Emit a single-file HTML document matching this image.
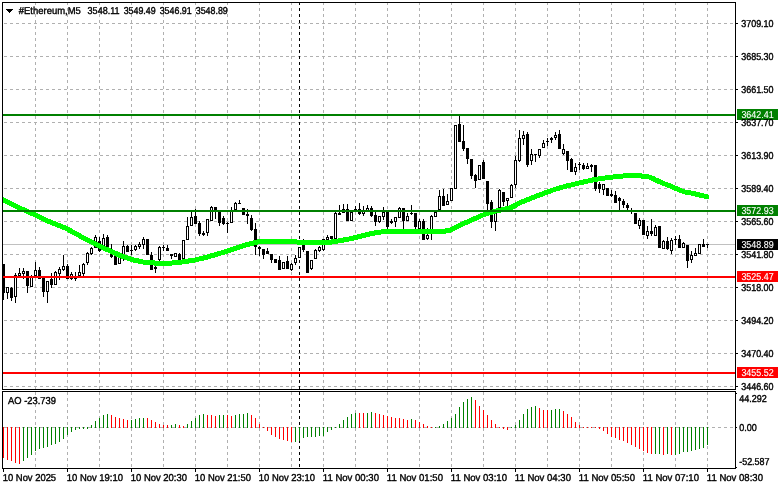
<!DOCTYPE html>
<html><head><meta charset="utf-8"><title>#Ethereum,M5</title>
<style>html,body{margin:0;padding:0;background:#fff;}body{width:781px;height:489px;overflow:hidden;font-family:"Liberation Sans",sans-serif;}</style>
</head><body><svg width="781" height="489" viewBox="0 0 781 489" style="display:block"><g shape-rendering="crispEdges">
<path d="M35.5 3V5M35.5 8V11M35.5 14V17M35.5 20V23M35.5 26V29M35.5 32V35M35.5 38V41M35.5 44V47M35.5 50V53M35.5 56V59M35.5 62V65M35.5 68V71M35.5 74V77M35.5 80V83M35.5 86V89M35.5 92V95M35.5 98V101M35.5 104V107M35.5 110V113M35.5 116V119M35.5 122V125M35.5 128V131M35.5 134V137M35.5 140V143M35.5 146V149M35.5 152V155M35.5 158V161M35.5 164V167M35.5 170V173M35.5 176V179M35.5 182V185M35.5 188V191M35.5 194V197M35.5 200V203M35.5 206V209M35.5 212V215M35.5 218V221M35.5 224V227M35.5 230V233M35.5 236V239M35.5 242V245M35.5 248V251M35.5 254V257M35.5 260V263M35.5 266V269M35.5 272V275M35.5 278V281M35.5 284V287M35.5 290V293M35.5 296V299M35.5 302V305M35.5 308V311M35.5 314V317M35.5 320V323M35.5 326V329M35.5 332V335M35.5 338V341M35.5 344V347M35.5 350V353M35.5 356V359M35.5 362V365M35.5 368V371M35.5 374V377M35.5 380V383M35.5 386V389" stroke="#b0b0b0" stroke-width="1" fill="none"/>
<path d="M35.5 392V395M35.5 398V401M35.5 404V407M35.5 410V413M35.5 416V419M35.5 422V425M35.5 428V431M35.5 434V437M35.5 440V443M35.5 446V449M35.5 452V455M35.5 458V461M35.5 464V467" stroke="#b0b0b0" stroke-width="1" fill="none"/>
<path d="M67.5 3V5M67.5 8V11M67.5 14V17M67.5 20V23M67.5 26V29M67.5 32V35M67.5 38V41M67.5 44V47M67.5 50V53M67.5 56V59M67.5 62V65M67.5 68V71M67.5 74V77M67.5 80V83M67.5 86V89M67.5 92V95M67.5 98V101M67.5 104V107M67.5 110V113M67.5 116V119M67.5 122V125M67.5 128V131M67.5 134V137M67.5 140V143M67.5 146V149M67.5 152V155M67.5 158V161M67.5 164V167M67.5 170V173M67.5 176V179M67.5 182V185M67.5 188V191M67.5 194V197M67.5 200V203M67.5 206V209M67.5 212V215M67.5 218V221M67.5 224V227M67.5 230V233M67.5 236V239M67.5 242V245M67.5 248V251M67.5 254V257M67.5 260V263M67.5 266V269M67.5 272V275M67.5 278V281M67.5 284V287M67.5 290V293M67.5 296V299M67.5 302V305M67.5 308V311M67.5 314V317M67.5 320V323M67.5 326V329M67.5 332V335M67.5 338V341M67.5 344V347M67.5 350V353M67.5 356V359M67.5 362V365M67.5 368V371M67.5 374V377M67.5 380V383M67.5 386V389" stroke="#b0b0b0" stroke-width="1" fill="none"/>
<path d="M67.5 392V395M67.5 398V401M67.5 404V407M67.5 410V413M67.5 416V419M67.5 422V425M67.5 428V431M67.5 434V437M67.5 440V443M67.5 446V449M67.5 452V455M67.5 458V461M67.5 464V467" stroke="#b0b0b0" stroke-width="1" fill="none"/>
<path d="M99.5 3V5M99.5 8V11M99.5 14V17M99.5 20V23M99.5 26V29M99.5 32V35M99.5 38V41M99.5 44V47M99.5 50V53M99.5 56V59M99.5 62V65M99.5 68V71M99.5 74V77M99.5 80V83M99.5 86V89M99.5 92V95M99.5 98V101M99.5 104V107M99.5 110V113M99.5 116V119M99.5 122V125M99.5 128V131M99.5 134V137M99.5 140V143M99.5 146V149M99.5 152V155M99.5 158V161M99.5 164V167M99.5 170V173M99.5 176V179M99.5 182V185M99.5 188V191M99.5 194V197M99.5 200V203M99.5 206V209M99.5 212V215M99.5 218V221M99.5 224V227M99.5 230V233M99.5 236V239M99.5 242V245M99.5 248V251M99.5 254V257M99.5 260V263M99.5 266V269M99.5 272V275M99.5 278V281M99.5 284V287M99.5 290V293M99.5 296V299M99.5 302V305M99.5 308V311M99.5 314V317M99.5 320V323M99.5 326V329M99.5 332V335M99.5 338V341M99.5 344V347M99.5 350V353M99.5 356V359M99.5 362V365M99.5 368V371M99.5 374V377M99.5 380V383M99.5 386V389" stroke="#b0b0b0" stroke-width="1" fill="none"/>
<path d="M99.5 392V395M99.5 398V401M99.5 404V407M99.5 410V413M99.5 416V419M99.5 422V425M99.5 428V431M99.5 434V437M99.5 440V443M99.5 446V449M99.5 452V455M99.5 458V461M99.5 464V467" stroke="#b0b0b0" stroke-width="1" fill="none"/>
<path d="M131.5 3V5M131.5 8V11M131.5 14V17M131.5 20V23M131.5 26V29M131.5 32V35M131.5 38V41M131.5 44V47M131.5 50V53M131.5 56V59M131.5 62V65M131.5 68V71M131.5 74V77M131.5 80V83M131.5 86V89M131.5 92V95M131.5 98V101M131.5 104V107M131.5 110V113M131.5 116V119M131.5 122V125M131.5 128V131M131.5 134V137M131.5 140V143M131.5 146V149M131.5 152V155M131.5 158V161M131.5 164V167M131.5 170V173M131.5 176V179M131.5 182V185M131.5 188V191M131.5 194V197M131.5 200V203M131.5 206V209M131.5 212V215M131.5 218V221M131.5 224V227M131.5 230V233M131.5 236V239M131.5 242V245M131.5 248V251M131.5 254V257M131.5 260V263M131.5 266V269M131.5 272V275M131.5 278V281M131.5 284V287M131.5 290V293M131.5 296V299M131.5 302V305M131.5 308V311M131.5 314V317M131.5 320V323M131.5 326V329M131.5 332V335M131.5 338V341M131.5 344V347M131.5 350V353M131.5 356V359M131.5 362V365M131.5 368V371M131.5 374V377M131.5 380V383M131.5 386V389" stroke="#b0b0b0" stroke-width="1" fill="none"/>
<path d="M131.5 392V395M131.5 398V401M131.5 404V407M131.5 410V413M131.5 416V419M131.5 422V425M131.5 428V431M131.5 434V437M131.5 440V443M131.5 446V449M131.5 452V455M131.5 458V461M131.5 464V467" stroke="#b0b0b0" stroke-width="1" fill="none"/>
<path d="M163.5 3V5M163.5 8V11M163.5 14V17M163.5 20V23M163.5 26V29M163.5 32V35M163.5 38V41M163.5 44V47M163.5 50V53M163.5 56V59M163.5 62V65M163.5 68V71M163.5 74V77M163.5 80V83M163.5 86V89M163.5 92V95M163.5 98V101M163.5 104V107M163.5 110V113M163.5 116V119M163.5 122V125M163.5 128V131M163.5 134V137M163.5 140V143M163.5 146V149M163.5 152V155M163.5 158V161M163.5 164V167M163.5 170V173M163.5 176V179M163.5 182V185M163.5 188V191M163.5 194V197M163.5 200V203M163.5 206V209M163.5 212V215M163.5 218V221M163.5 224V227M163.5 230V233M163.5 236V239M163.5 242V245M163.5 248V251M163.5 254V257M163.5 260V263M163.5 266V269M163.5 272V275M163.5 278V281M163.5 284V287M163.5 290V293M163.5 296V299M163.5 302V305M163.5 308V311M163.5 314V317M163.5 320V323M163.5 326V329M163.5 332V335M163.5 338V341M163.5 344V347M163.5 350V353M163.5 356V359M163.5 362V365M163.5 368V371M163.5 374V377M163.5 380V383M163.5 386V389" stroke="#b0b0b0" stroke-width="1" fill="none"/>
<path d="M163.5 392V395M163.5 398V401M163.5 404V407M163.5 410V413M163.5 416V419M163.5 422V425M163.5 428V431M163.5 434V437M163.5 440V443M163.5 446V449M163.5 452V455M163.5 458V461M163.5 464V467" stroke="#b0b0b0" stroke-width="1" fill="none"/>
<path d="M195.5 3V5M195.5 8V11M195.5 14V17M195.5 20V23M195.5 26V29M195.5 32V35M195.5 38V41M195.5 44V47M195.5 50V53M195.5 56V59M195.5 62V65M195.5 68V71M195.5 74V77M195.5 80V83M195.5 86V89M195.5 92V95M195.5 98V101M195.5 104V107M195.5 110V113M195.5 116V119M195.5 122V125M195.5 128V131M195.5 134V137M195.5 140V143M195.5 146V149M195.5 152V155M195.5 158V161M195.5 164V167M195.5 170V173M195.5 176V179M195.5 182V185M195.5 188V191M195.5 194V197M195.5 200V203M195.5 206V209M195.5 212V215M195.5 218V221M195.5 224V227M195.5 230V233M195.5 236V239M195.5 242V245M195.5 248V251M195.5 254V257M195.5 260V263M195.5 266V269M195.5 272V275M195.5 278V281M195.5 284V287M195.5 290V293M195.5 296V299M195.5 302V305M195.5 308V311M195.5 314V317M195.5 320V323M195.5 326V329M195.5 332V335M195.5 338V341M195.5 344V347M195.5 350V353M195.5 356V359M195.5 362V365M195.5 368V371M195.5 374V377M195.5 380V383M195.5 386V389" stroke="#b0b0b0" stroke-width="1" fill="none"/>
<path d="M195.5 392V395M195.5 398V401M195.5 404V407M195.5 410V413M195.5 416V419M195.5 422V425M195.5 428V431M195.5 434V437M195.5 440V443M195.5 446V449M195.5 452V455M195.5 458V461M195.5 464V467" stroke="#b0b0b0" stroke-width="1" fill="none"/>
<path d="M227.5 3V5M227.5 8V11M227.5 14V17M227.5 20V23M227.5 26V29M227.5 32V35M227.5 38V41M227.5 44V47M227.5 50V53M227.5 56V59M227.5 62V65M227.5 68V71M227.5 74V77M227.5 80V83M227.5 86V89M227.5 92V95M227.5 98V101M227.5 104V107M227.5 110V113M227.5 116V119M227.5 122V125M227.5 128V131M227.5 134V137M227.5 140V143M227.5 146V149M227.5 152V155M227.5 158V161M227.5 164V167M227.5 170V173M227.5 176V179M227.5 182V185M227.5 188V191M227.5 194V197M227.5 200V203M227.5 206V209M227.5 212V215M227.5 218V221M227.5 224V227M227.5 230V233M227.5 236V239M227.5 242V245M227.5 248V251M227.5 254V257M227.5 260V263M227.5 266V269M227.5 272V275M227.5 278V281M227.5 284V287M227.5 290V293M227.5 296V299M227.5 302V305M227.5 308V311M227.5 314V317M227.5 320V323M227.5 326V329M227.5 332V335M227.5 338V341M227.5 344V347M227.5 350V353M227.5 356V359M227.5 362V365M227.5 368V371M227.5 374V377M227.5 380V383M227.5 386V389" stroke="#b0b0b0" stroke-width="1" fill="none"/>
<path d="M227.5 392V395M227.5 398V401M227.5 404V407M227.5 410V413M227.5 416V419M227.5 422V425M227.5 428V431M227.5 434V437M227.5 440V443M227.5 446V449M227.5 452V455M227.5 458V461M227.5 464V467" stroke="#b0b0b0" stroke-width="1" fill="none"/>
<path d="M259.5 3V5M259.5 8V11M259.5 14V17M259.5 20V23M259.5 26V29M259.5 32V35M259.5 38V41M259.5 44V47M259.5 50V53M259.5 56V59M259.5 62V65M259.5 68V71M259.5 74V77M259.5 80V83M259.5 86V89M259.5 92V95M259.5 98V101M259.5 104V107M259.5 110V113M259.5 116V119M259.5 122V125M259.5 128V131M259.5 134V137M259.5 140V143M259.5 146V149M259.5 152V155M259.5 158V161M259.5 164V167M259.5 170V173M259.5 176V179M259.5 182V185M259.5 188V191M259.5 194V197M259.5 200V203M259.5 206V209M259.5 212V215M259.5 218V221M259.5 224V227M259.5 230V233M259.5 236V239M259.5 242V245M259.5 248V251M259.5 254V257M259.5 260V263M259.5 266V269M259.5 272V275M259.5 278V281M259.5 284V287M259.5 290V293M259.5 296V299M259.5 302V305M259.5 308V311M259.5 314V317M259.5 320V323M259.5 326V329M259.5 332V335M259.5 338V341M259.5 344V347M259.5 350V353M259.5 356V359M259.5 362V365M259.5 368V371M259.5 374V377M259.5 380V383M259.5 386V389" stroke="#b0b0b0" stroke-width="1" fill="none"/>
<path d="M259.5 392V395M259.5 398V401M259.5 404V407M259.5 410V413M259.5 416V419M259.5 422V425M259.5 428V431M259.5 434V437M259.5 440V443M259.5 446V449M259.5 452V455M259.5 458V461M259.5 464V467" stroke="#b0b0b0" stroke-width="1" fill="none"/>
<path d="M291.5 3V5M291.5 8V11M291.5 14V17M291.5 20V23M291.5 26V29M291.5 32V35M291.5 38V41M291.5 44V47M291.5 50V53M291.5 56V59M291.5 62V65M291.5 68V71M291.5 74V77M291.5 80V83M291.5 86V89M291.5 92V95M291.5 98V101M291.5 104V107M291.5 110V113M291.5 116V119M291.5 122V125M291.5 128V131M291.5 134V137M291.5 140V143M291.5 146V149M291.5 152V155M291.5 158V161M291.5 164V167M291.5 170V173M291.5 176V179M291.5 182V185M291.5 188V191M291.5 194V197M291.5 200V203M291.5 206V209M291.5 212V215M291.5 218V221M291.5 224V227M291.5 230V233M291.5 236V239M291.5 242V245M291.5 248V251M291.5 254V257M291.5 260V263M291.5 266V269M291.5 272V275M291.5 278V281M291.5 284V287M291.5 290V293M291.5 296V299M291.5 302V305M291.5 308V311M291.5 314V317M291.5 320V323M291.5 326V329M291.5 332V335M291.5 338V341M291.5 344V347M291.5 350V353M291.5 356V359M291.5 362V365M291.5 368V371M291.5 374V377M291.5 380V383M291.5 386V389" stroke="#b0b0b0" stroke-width="1" fill="none"/>
<path d="M291.5 392V395M291.5 398V401M291.5 404V407M291.5 410V413M291.5 416V419M291.5 422V425M291.5 428V431M291.5 434V437M291.5 440V443M291.5 446V449M291.5 452V455M291.5 458V461M291.5 464V467" stroke="#b0b0b0" stroke-width="1" fill="none"/>
<path d="M323.5 3V5M323.5 8V11M323.5 14V17M323.5 20V23M323.5 26V29M323.5 32V35M323.5 38V41M323.5 44V47M323.5 50V53M323.5 56V59M323.5 62V65M323.5 68V71M323.5 74V77M323.5 80V83M323.5 86V89M323.5 92V95M323.5 98V101M323.5 104V107M323.5 110V113M323.5 116V119M323.5 122V125M323.5 128V131M323.5 134V137M323.5 140V143M323.5 146V149M323.5 152V155M323.5 158V161M323.5 164V167M323.5 170V173M323.5 176V179M323.5 182V185M323.5 188V191M323.5 194V197M323.5 200V203M323.5 206V209M323.5 212V215M323.5 218V221M323.5 224V227M323.5 230V233M323.5 236V239M323.5 242V245M323.5 248V251M323.5 254V257M323.5 260V263M323.5 266V269M323.5 272V275M323.5 278V281M323.5 284V287M323.5 290V293M323.5 296V299M323.5 302V305M323.5 308V311M323.5 314V317M323.5 320V323M323.5 326V329M323.5 332V335M323.5 338V341M323.5 344V347M323.5 350V353M323.5 356V359M323.5 362V365M323.5 368V371M323.5 374V377M323.5 380V383M323.5 386V389" stroke="#b0b0b0" stroke-width="1" fill="none"/>
<path d="M323.5 392V395M323.5 398V401M323.5 404V407M323.5 410V413M323.5 416V419M323.5 422V425M323.5 428V431M323.5 434V437M323.5 440V443M323.5 446V449M323.5 452V455M323.5 458V461M323.5 464V467" stroke="#b0b0b0" stroke-width="1" fill="none"/>
<path d="M355.5 3V5M355.5 8V11M355.5 14V17M355.5 20V23M355.5 26V29M355.5 32V35M355.5 38V41M355.5 44V47M355.5 50V53M355.5 56V59M355.5 62V65M355.5 68V71M355.5 74V77M355.5 80V83M355.5 86V89M355.5 92V95M355.5 98V101M355.5 104V107M355.5 110V113M355.5 116V119M355.5 122V125M355.5 128V131M355.5 134V137M355.5 140V143M355.5 146V149M355.5 152V155M355.5 158V161M355.5 164V167M355.5 170V173M355.5 176V179M355.5 182V185M355.5 188V191M355.5 194V197M355.5 200V203M355.5 206V209M355.5 212V215M355.5 218V221M355.5 224V227M355.5 230V233M355.5 236V239M355.5 242V245M355.5 248V251M355.5 254V257M355.5 260V263M355.5 266V269M355.5 272V275M355.5 278V281M355.5 284V287M355.5 290V293M355.5 296V299M355.5 302V305M355.5 308V311M355.5 314V317M355.5 320V323M355.5 326V329M355.5 332V335M355.5 338V341M355.5 344V347M355.5 350V353M355.5 356V359M355.5 362V365M355.5 368V371M355.5 374V377M355.5 380V383M355.5 386V389" stroke="#b0b0b0" stroke-width="1" fill="none"/>
<path d="M355.5 392V395M355.5 398V401M355.5 404V407M355.5 410V413M355.5 416V419M355.5 422V425M355.5 428V431M355.5 434V437M355.5 440V443M355.5 446V449M355.5 452V455M355.5 458V461M355.5 464V467" stroke="#b0b0b0" stroke-width="1" fill="none"/>
<path d="M387.5 3V5M387.5 8V11M387.5 14V17M387.5 20V23M387.5 26V29M387.5 32V35M387.5 38V41M387.5 44V47M387.5 50V53M387.5 56V59M387.5 62V65M387.5 68V71M387.5 74V77M387.5 80V83M387.5 86V89M387.5 92V95M387.5 98V101M387.5 104V107M387.5 110V113M387.5 116V119M387.5 122V125M387.5 128V131M387.5 134V137M387.5 140V143M387.5 146V149M387.5 152V155M387.5 158V161M387.5 164V167M387.5 170V173M387.5 176V179M387.5 182V185M387.5 188V191M387.5 194V197M387.5 200V203M387.5 206V209M387.5 212V215M387.5 218V221M387.5 224V227M387.5 230V233M387.5 236V239M387.5 242V245M387.5 248V251M387.5 254V257M387.5 260V263M387.5 266V269M387.5 272V275M387.5 278V281M387.5 284V287M387.5 290V293M387.5 296V299M387.5 302V305M387.5 308V311M387.5 314V317M387.5 320V323M387.5 326V329M387.5 332V335M387.5 338V341M387.5 344V347M387.5 350V353M387.5 356V359M387.5 362V365M387.5 368V371M387.5 374V377M387.5 380V383M387.5 386V389" stroke="#b0b0b0" stroke-width="1" fill="none"/>
<path d="M387.5 392V395M387.5 398V401M387.5 404V407M387.5 410V413M387.5 416V419M387.5 422V425M387.5 428V431M387.5 434V437M387.5 440V443M387.5 446V449M387.5 452V455M387.5 458V461M387.5 464V467" stroke="#b0b0b0" stroke-width="1" fill="none"/>
<path d="M419.5 3V5M419.5 8V11M419.5 14V17M419.5 20V23M419.5 26V29M419.5 32V35M419.5 38V41M419.5 44V47M419.5 50V53M419.5 56V59M419.5 62V65M419.5 68V71M419.5 74V77M419.5 80V83M419.5 86V89M419.5 92V95M419.5 98V101M419.5 104V107M419.5 110V113M419.5 116V119M419.5 122V125M419.5 128V131M419.5 134V137M419.5 140V143M419.5 146V149M419.5 152V155M419.5 158V161M419.5 164V167M419.5 170V173M419.5 176V179M419.5 182V185M419.5 188V191M419.5 194V197M419.5 200V203M419.5 206V209M419.5 212V215M419.5 218V221M419.5 224V227M419.5 230V233M419.5 236V239M419.5 242V245M419.5 248V251M419.5 254V257M419.5 260V263M419.5 266V269M419.5 272V275M419.5 278V281M419.5 284V287M419.5 290V293M419.5 296V299M419.5 302V305M419.5 308V311M419.5 314V317M419.5 320V323M419.5 326V329M419.5 332V335M419.5 338V341M419.5 344V347M419.5 350V353M419.5 356V359M419.5 362V365M419.5 368V371M419.5 374V377M419.5 380V383M419.5 386V389" stroke="#b0b0b0" stroke-width="1" fill="none"/>
<path d="M419.5 392V395M419.5 398V401M419.5 404V407M419.5 410V413M419.5 416V419M419.5 422V425M419.5 428V431M419.5 434V437M419.5 440V443M419.5 446V449M419.5 452V455M419.5 458V461M419.5 464V467" stroke="#b0b0b0" stroke-width="1" fill="none"/>
<path d="M451.5 3V5M451.5 8V11M451.5 14V17M451.5 20V23M451.5 26V29M451.5 32V35M451.5 38V41M451.5 44V47M451.5 50V53M451.5 56V59M451.5 62V65M451.5 68V71M451.5 74V77M451.5 80V83M451.5 86V89M451.5 92V95M451.5 98V101M451.5 104V107M451.5 110V113M451.5 116V119M451.5 122V125M451.5 128V131M451.5 134V137M451.5 140V143M451.5 146V149M451.5 152V155M451.5 158V161M451.5 164V167M451.5 170V173M451.5 176V179M451.5 182V185M451.5 188V191M451.5 194V197M451.5 200V203M451.5 206V209M451.5 212V215M451.5 218V221M451.5 224V227M451.5 230V233M451.5 236V239M451.5 242V245M451.5 248V251M451.5 254V257M451.5 260V263M451.5 266V269M451.5 272V275M451.5 278V281M451.5 284V287M451.5 290V293M451.5 296V299M451.5 302V305M451.5 308V311M451.5 314V317M451.5 320V323M451.5 326V329M451.5 332V335M451.5 338V341M451.5 344V347M451.5 350V353M451.5 356V359M451.5 362V365M451.5 368V371M451.5 374V377M451.5 380V383M451.5 386V389" stroke="#b0b0b0" stroke-width="1" fill="none"/>
<path d="M451.5 392V395M451.5 398V401M451.5 404V407M451.5 410V413M451.5 416V419M451.5 422V425M451.5 428V431M451.5 434V437M451.5 440V443M451.5 446V449M451.5 452V455M451.5 458V461M451.5 464V467" stroke="#b0b0b0" stroke-width="1" fill="none"/>
<path d="M483.5 3V5M483.5 8V11M483.5 14V17M483.5 20V23M483.5 26V29M483.5 32V35M483.5 38V41M483.5 44V47M483.5 50V53M483.5 56V59M483.5 62V65M483.5 68V71M483.5 74V77M483.5 80V83M483.5 86V89M483.5 92V95M483.5 98V101M483.5 104V107M483.5 110V113M483.5 116V119M483.5 122V125M483.5 128V131M483.5 134V137M483.5 140V143M483.5 146V149M483.5 152V155M483.5 158V161M483.5 164V167M483.5 170V173M483.5 176V179M483.5 182V185M483.5 188V191M483.5 194V197M483.5 200V203M483.5 206V209M483.5 212V215M483.5 218V221M483.5 224V227M483.5 230V233M483.5 236V239M483.5 242V245M483.5 248V251M483.5 254V257M483.5 260V263M483.5 266V269M483.5 272V275M483.5 278V281M483.5 284V287M483.5 290V293M483.5 296V299M483.5 302V305M483.5 308V311M483.5 314V317M483.5 320V323M483.5 326V329M483.5 332V335M483.5 338V341M483.5 344V347M483.5 350V353M483.5 356V359M483.5 362V365M483.5 368V371M483.5 374V377M483.5 380V383M483.5 386V389" stroke="#b0b0b0" stroke-width="1" fill="none"/>
<path d="M483.5 392V395M483.5 398V401M483.5 404V407M483.5 410V413M483.5 416V419M483.5 422V425M483.5 428V431M483.5 434V437M483.5 440V443M483.5 446V449M483.5 452V455M483.5 458V461M483.5 464V467" stroke="#b0b0b0" stroke-width="1" fill="none"/>
<path d="M515.5 3V5M515.5 8V11M515.5 14V17M515.5 20V23M515.5 26V29M515.5 32V35M515.5 38V41M515.5 44V47M515.5 50V53M515.5 56V59M515.5 62V65M515.5 68V71M515.5 74V77M515.5 80V83M515.5 86V89M515.5 92V95M515.5 98V101M515.5 104V107M515.5 110V113M515.5 116V119M515.5 122V125M515.5 128V131M515.5 134V137M515.5 140V143M515.5 146V149M515.5 152V155M515.5 158V161M515.5 164V167M515.5 170V173M515.5 176V179M515.5 182V185M515.5 188V191M515.5 194V197M515.5 200V203M515.5 206V209M515.5 212V215M515.5 218V221M515.5 224V227M515.5 230V233M515.5 236V239M515.5 242V245M515.5 248V251M515.5 254V257M515.5 260V263M515.5 266V269M515.5 272V275M515.5 278V281M515.5 284V287M515.5 290V293M515.5 296V299M515.5 302V305M515.5 308V311M515.5 314V317M515.5 320V323M515.5 326V329M515.5 332V335M515.5 338V341M515.5 344V347M515.5 350V353M515.5 356V359M515.5 362V365M515.5 368V371M515.5 374V377M515.5 380V383M515.5 386V389" stroke="#b0b0b0" stroke-width="1" fill="none"/>
<path d="M515.5 392V395M515.5 398V401M515.5 404V407M515.5 410V413M515.5 416V419M515.5 422V425M515.5 428V431M515.5 434V437M515.5 440V443M515.5 446V449M515.5 452V455M515.5 458V461M515.5 464V467" stroke="#b0b0b0" stroke-width="1" fill="none"/>
<path d="M547.5 3V5M547.5 8V11M547.5 14V17M547.5 20V23M547.5 26V29M547.5 32V35M547.5 38V41M547.5 44V47M547.5 50V53M547.5 56V59M547.5 62V65M547.5 68V71M547.5 74V77M547.5 80V83M547.5 86V89M547.5 92V95M547.5 98V101M547.5 104V107M547.5 110V113M547.5 116V119M547.5 122V125M547.5 128V131M547.5 134V137M547.5 140V143M547.5 146V149M547.5 152V155M547.5 158V161M547.5 164V167M547.5 170V173M547.5 176V179M547.5 182V185M547.5 188V191M547.5 194V197M547.5 200V203M547.5 206V209M547.5 212V215M547.5 218V221M547.5 224V227M547.5 230V233M547.5 236V239M547.5 242V245M547.5 248V251M547.5 254V257M547.5 260V263M547.5 266V269M547.5 272V275M547.5 278V281M547.5 284V287M547.5 290V293M547.5 296V299M547.5 302V305M547.5 308V311M547.5 314V317M547.5 320V323M547.5 326V329M547.5 332V335M547.5 338V341M547.5 344V347M547.5 350V353M547.5 356V359M547.5 362V365M547.5 368V371M547.5 374V377M547.5 380V383M547.5 386V389" stroke="#b0b0b0" stroke-width="1" fill="none"/>
<path d="M547.5 392V395M547.5 398V401M547.5 404V407M547.5 410V413M547.5 416V419M547.5 422V425M547.5 428V431M547.5 434V437M547.5 440V443M547.5 446V449M547.5 452V455M547.5 458V461M547.5 464V467" stroke="#b0b0b0" stroke-width="1" fill="none"/>
<path d="M579.5 3V5M579.5 8V11M579.5 14V17M579.5 20V23M579.5 26V29M579.5 32V35M579.5 38V41M579.5 44V47M579.5 50V53M579.5 56V59M579.5 62V65M579.5 68V71M579.5 74V77M579.5 80V83M579.5 86V89M579.5 92V95M579.5 98V101M579.5 104V107M579.5 110V113M579.5 116V119M579.5 122V125M579.5 128V131M579.5 134V137M579.5 140V143M579.5 146V149M579.5 152V155M579.5 158V161M579.5 164V167M579.5 170V173M579.5 176V179M579.5 182V185M579.5 188V191M579.5 194V197M579.5 200V203M579.5 206V209M579.5 212V215M579.5 218V221M579.5 224V227M579.5 230V233M579.5 236V239M579.5 242V245M579.5 248V251M579.5 254V257M579.5 260V263M579.5 266V269M579.5 272V275M579.5 278V281M579.5 284V287M579.5 290V293M579.5 296V299M579.5 302V305M579.5 308V311M579.5 314V317M579.5 320V323M579.5 326V329M579.5 332V335M579.5 338V341M579.5 344V347M579.5 350V353M579.5 356V359M579.5 362V365M579.5 368V371M579.5 374V377M579.5 380V383M579.5 386V389" stroke="#b0b0b0" stroke-width="1" fill="none"/>
<path d="M579.5 392V395M579.5 398V401M579.5 404V407M579.5 410V413M579.5 416V419M579.5 422V425M579.5 428V431M579.5 434V437M579.5 440V443M579.5 446V449M579.5 452V455M579.5 458V461M579.5 464V467" stroke="#b0b0b0" stroke-width="1" fill="none"/>
<path d="M611.5 3V5M611.5 8V11M611.5 14V17M611.5 20V23M611.5 26V29M611.5 32V35M611.5 38V41M611.5 44V47M611.5 50V53M611.5 56V59M611.5 62V65M611.5 68V71M611.5 74V77M611.5 80V83M611.5 86V89M611.5 92V95M611.5 98V101M611.5 104V107M611.5 110V113M611.5 116V119M611.5 122V125M611.5 128V131M611.5 134V137M611.5 140V143M611.5 146V149M611.5 152V155M611.5 158V161M611.5 164V167M611.5 170V173M611.5 176V179M611.5 182V185M611.5 188V191M611.5 194V197M611.5 200V203M611.5 206V209M611.5 212V215M611.5 218V221M611.5 224V227M611.5 230V233M611.5 236V239M611.5 242V245M611.5 248V251M611.5 254V257M611.5 260V263M611.5 266V269M611.5 272V275M611.5 278V281M611.5 284V287M611.5 290V293M611.5 296V299M611.5 302V305M611.5 308V311M611.5 314V317M611.5 320V323M611.5 326V329M611.5 332V335M611.5 338V341M611.5 344V347M611.5 350V353M611.5 356V359M611.5 362V365M611.5 368V371M611.5 374V377M611.5 380V383M611.5 386V389" stroke="#b0b0b0" stroke-width="1" fill="none"/>
<path d="M611.5 392V395M611.5 398V401M611.5 404V407M611.5 410V413M611.5 416V419M611.5 422V425M611.5 428V431M611.5 434V437M611.5 440V443M611.5 446V449M611.5 452V455M611.5 458V461M611.5 464V467" stroke="#b0b0b0" stroke-width="1" fill="none"/>
<path d="M643.5 3V5M643.5 8V11M643.5 14V17M643.5 20V23M643.5 26V29M643.5 32V35M643.5 38V41M643.5 44V47M643.5 50V53M643.5 56V59M643.5 62V65M643.5 68V71M643.5 74V77M643.5 80V83M643.5 86V89M643.5 92V95M643.5 98V101M643.5 104V107M643.5 110V113M643.5 116V119M643.5 122V125M643.5 128V131M643.5 134V137M643.5 140V143M643.5 146V149M643.5 152V155M643.5 158V161M643.5 164V167M643.5 170V173M643.5 176V179M643.5 182V185M643.5 188V191M643.5 194V197M643.5 200V203M643.5 206V209M643.5 212V215M643.5 218V221M643.5 224V227M643.5 230V233M643.5 236V239M643.5 242V245M643.5 248V251M643.5 254V257M643.5 260V263M643.5 266V269M643.5 272V275M643.5 278V281M643.5 284V287M643.5 290V293M643.5 296V299M643.5 302V305M643.5 308V311M643.5 314V317M643.5 320V323M643.5 326V329M643.5 332V335M643.5 338V341M643.5 344V347M643.5 350V353M643.5 356V359M643.5 362V365M643.5 368V371M643.5 374V377M643.5 380V383M643.5 386V389" stroke="#b0b0b0" stroke-width="1" fill="none"/>
<path d="M643.5 392V395M643.5 398V401M643.5 404V407M643.5 410V413M643.5 416V419M643.5 422V425M643.5 428V431M643.5 434V437M643.5 440V443M643.5 446V449M643.5 452V455M643.5 458V461M643.5 464V467" stroke="#b0b0b0" stroke-width="1" fill="none"/>
<path d="M675.5 3V5M675.5 8V11M675.5 14V17M675.5 20V23M675.5 26V29M675.5 32V35M675.5 38V41M675.5 44V47M675.5 50V53M675.5 56V59M675.5 62V65M675.5 68V71M675.5 74V77M675.5 80V83M675.5 86V89M675.5 92V95M675.5 98V101M675.5 104V107M675.5 110V113M675.5 116V119M675.5 122V125M675.5 128V131M675.5 134V137M675.5 140V143M675.5 146V149M675.5 152V155M675.5 158V161M675.5 164V167M675.5 170V173M675.5 176V179M675.5 182V185M675.5 188V191M675.5 194V197M675.5 200V203M675.5 206V209M675.5 212V215M675.5 218V221M675.5 224V227M675.5 230V233M675.5 236V239M675.5 242V245M675.5 248V251M675.5 254V257M675.5 260V263M675.5 266V269M675.5 272V275M675.5 278V281M675.5 284V287M675.5 290V293M675.5 296V299M675.5 302V305M675.5 308V311M675.5 314V317M675.5 320V323M675.5 326V329M675.5 332V335M675.5 338V341M675.5 344V347M675.5 350V353M675.5 356V359M675.5 362V365M675.5 368V371M675.5 374V377M675.5 380V383M675.5 386V389" stroke="#b0b0b0" stroke-width="1" fill="none"/>
<path d="M675.5 392V395M675.5 398V401M675.5 404V407M675.5 410V413M675.5 416V419M675.5 422V425M675.5 428V431M675.5 434V437M675.5 440V443M675.5 446V449M675.5 452V455M675.5 458V461M675.5 464V467" stroke="#b0b0b0" stroke-width="1" fill="none"/>
<path d="M707.5 3V5M707.5 8V11M707.5 14V17M707.5 20V23M707.5 26V29M707.5 32V35M707.5 38V41M707.5 44V47M707.5 50V53M707.5 56V59M707.5 62V65M707.5 68V71M707.5 74V77M707.5 80V83M707.5 86V89M707.5 92V95M707.5 98V101M707.5 104V107M707.5 110V113M707.5 116V119M707.5 122V125M707.5 128V131M707.5 134V137M707.5 140V143M707.5 146V149M707.5 152V155M707.5 158V161M707.5 164V167M707.5 170V173M707.5 176V179M707.5 182V185M707.5 188V191M707.5 194V197M707.5 200V203M707.5 206V209M707.5 212V215M707.5 218V221M707.5 224V227M707.5 230V233M707.5 236V239M707.5 242V245M707.5 248V251M707.5 254V257M707.5 260V263M707.5 266V269M707.5 272V275M707.5 278V281M707.5 284V287M707.5 290V293M707.5 296V299M707.5 302V305M707.5 308V311M707.5 314V317M707.5 320V323M707.5 326V329M707.5 332V335M707.5 338V341M707.5 344V347M707.5 350V353M707.5 356V359M707.5 362V365M707.5 368V371M707.5 374V377M707.5 380V383M707.5 386V389" stroke="#b0b0b0" stroke-width="1" fill="none"/>
<path d="M707.5 392V395M707.5 398V401M707.5 404V407M707.5 410V413M707.5 416V419M707.5 422V425M707.5 428V431M707.5 434V437M707.5 440V443M707.5 446V449M707.5 452V455M707.5 458V461M707.5 464V467" stroke="#b0b0b0" stroke-width="1" fill="none"/>
<path d="M4 23.5H7M10 23.5H13M16 23.5H19M22 23.5H25M28 23.5H31M34 23.5H37M40 23.5H43M46 23.5H49M52 23.5H55M58 23.5H61M64 23.5H67M70 23.5H73M76 23.5H79M82 23.5H85M88 23.5H91M94 23.5H97M100 23.5H103M106 23.5H109M112 23.5H115M118 23.5H121M124 23.5H127M130 23.5H133M136 23.5H139M142 23.5H145M148 23.5H151M154 23.5H157M160 23.5H163M166 23.5H169M172 23.5H175M178 23.5H181M184 23.5H187M190 23.5H193M196 23.5H199M202 23.5H205M208 23.5H211M214 23.5H217M220 23.5H223M226 23.5H229M232 23.5H235M238 23.5H241M244 23.5H247M250 23.5H253M256 23.5H259M262 23.5H265M268 23.5H271M274 23.5H277M280 23.5H283M286 23.5H289M292 23.5H295M298 23.5H301M304 23.5H307M310 23.5H313M316 23.5H319M322 23.5H325M328 23.5H331M334 23.5H337M340 23.5H343M346 23.5H349M352 23.5H355M358 23.5H361M364 23.5H367M370 23.5H373M376 23.5H379M382 23.5H385M388 23.5H391M394 23.5H397M400 23.5H403M406 23.5H409M412 23.5H415M418 23.5H421M424 23.5H427M430 23.5H433M436 23.5H439M442 23.5H445M448 23.5H451M454 23.5H457M460 23.5H463M466 23.5H469M472 23.5H475M478 23.5H481M484 23.5H487M490 23.5H493M496 23.5H499M502 23.5H505M508 23.5H511M514 23.5H517M520 23.5H523M526 23.5H529M532 23.5H535M538 23.5H541M544 23.5H547M550 23.5H553M556 23.5H559M562 23.5H565M568 23.5H571M574 23.5H577M580 23.5H583M586 23.5H589M592 23.5H595M598 23.5H601M604 23.5H607M610 23.5H613M616 23.5H619M622 23.5H625M628 23.5H631M634 23.5H637M640 23.5H643M646 23.5H649M652 23.5H655M658 23.5H661M664 23.5H667M670 23.5H673M676 23.5H679M682 23.5H685M688 23.5H691M694 23.5H697M700 23.5H703M706 23.5H709M712 23.5H715M718 23.5H721M724 23.5H727M730 23.5H733" stroke="#b0b0b0" stroke-width="1" fill="none"/>
<path d="M4 56.5H7M10 56.5H13M16 56.5H19M22 56.5H25M28 56.5H31M34 56.5H37M40 56.5H43M46 56.5H49M52 56.5H55M58 56.5H61M64 56.5H67M70 56.5H73M76 56.5H79M82 56.5H85M88 56.5H91M94 56.5H97M100 56.5H103M106 56.5H109M112 56.5H115M118 56.5H121M124 56.5H127M130 56.5H133M136 56.5H139M142 56.5H145M148 56.5H151M154 56.5H157M160 56.5H163M166 56.5H169M172 56.5H175M178 56.5H181M184 56.5H187M190 56.5H193M196 56.5H199M202 56.5H205M208 56.5H211M214 56.5H217M220 56.5H223M226 56.5H229M232 56.5H235M238 56.5H241M244 56.5H247M250 56.5H253M256 56.5H259M262 56.5H265M268 56.5H271M274 56.5H277M280 56.5H283M286 56.5H289M292 56.5H295M298 56.5H301M304 56.5H307M310 56.5H313M316 56.5H319M322 56.5H325M328 56.5H331M334 56.5H337M340 56.5H343M346 56.5H349M352 56.5H355M358 56.5H361M364 56.5H367M370 56.5H373M376 56.5H379M382 56.5H385M388 56.5H391M394 56.5H397M400 56.5H403M406 56.5H409M412 56.5H415M418 56.5H421M424 56.5H427M430 56.5H433M436 56.5H439M442 56.5H445M448 56.5H451M454 56.5H457M460 56.5H463M466 56.5H469M472 56.5H475M478 56.5H481M484 56.5H487M490 56.5H493M496 56.5H499M502 56.5H505M508 56.5H511M514 56.5H517M520 56.5H523M526 56.5H529M532 56.5H535M538 56.5H541M544 56.5H547M550 56.5H553M556 56.5H559M562 56.5H565M568 56.5H571M574 56.5H577M580 56.5H583M586 56.5H589M592 56.5H595M598 56.5H601M604 56.5H607M610 56.5H613M616 56.5H619M622 56.5H625M628 56.5H631M634 56.5H637M640 56.5H643M646 56.5H649M652 56.5H655M658 56.5H661M664 56.5H667M670 56.5H673M676 56.5H679M682 56.5H685M688 56.5H691M694 56.5H697M700 56.5H703M706 56.5H709M712 56.5H715M718 56.5H721M724 56.5H727M730 56.5H733" stroke="#b0b0b0" stroke-width="1" fill="none"/>
<path d="M4 89.5H7M10 89.5H13M16 89.5H19M22 89.5H25M28 89.5H31M34 89.5H37M40 89.5H43M46 89.5H49M52 89.5H55M58 89.5H61M64 89.5H67M70 89.5H73M76 89.5H79M82 89.5H85M88 89.5H91M94 89.5H97M100 89.5H103M106 89.5H109M112 89.5H115M118 89.5H121M124 89.5H127M130 89.5H133M136 89.5H139M142 89.5H145M148 89.5H151M154 89.5H157M160 89.5H163M166 89.5H169M172 89.5H175M178 89.5H181M184 89.5H187M190 89.5H193M196 89.5H199M202 89.5H205M208 89.5H211M214 89.5H217M220 89.5H223M226 89.5H229M232 89.5H235M238 89.5H241M244 89.5H247M250 89.5H253M256 89.5H259M262 89.5H265M268 89.5H271M274 89.5H277M280 89.5H283M286 89.5H289M292 89.5H295M298 89.5H301M304 89.5H307M310 89.5H313M316 89.5H319M322 89.5H325M328 89.5H331M334 89.5H337M340 89.5H343M346 89.5H349M352 89.5H355M358 89.5H361M364 89.5H367M370 89.5H373M376 89.5H379M382 89.5H385M388 89.5H391M394 89.5H397M400 89.5H403M406 89.5H409M412 89.5H415M418 89.5H421M424 89.5H427M430 89.5H433M436 89.5H439M442 89.5H445M448 89.5H451M454 89.5H457M460 89.5H463M466 89.5H469M472 89.5H475M478 89.5H481M484 89.5H487M490 89.5H493M496 89.5H499M502 89.5H505M508 89.5H511M514 89.5H517M520 89.5H523M526 89.5H529M532 89.5H535M538 89.5H541M544 89.5H547M550 89.5H553M556 89.5H559M562 89.5H565M568 89.5H571M574 89.5H577M580 89.5H583M586 89.5H589M592 89.5H595M598 89.5H601M604 89.5H607M610 89.5H613M616 89.5H619M622 89.5H625M628 89.5H631M634 89.5H637M640 89.5H643M646 89.5H649M652 89.5H655M658 89.5H661M664 89.5H667M670 89.5H673M676 89.5H679M682 89.5H685M688 89.5H691M694 89.5H697M700 89.5H703M706 89.5H709M712 89.5H715M718 89.5H721M724 89.5H727M730 89.5H733" stroke="#b0b0b0" stroke-width="1" fill="none"/>
<path d="M4 122.5H7M10 122.5H13M16 122.5H19M22 122.5H25M28 122.5H31M34 122.5H37M40 122.5H43M46 122.5H49M52 122.5H55M58 122.5H61M64 122.5H67M70 122.5H73M76 122.5H79M82 122.5H85M88 122.5H91M94 122.5H97M100 122.5H103M106 122.5H109M112 122.5H115M118 122.5H121M124 122.5H127M130 122.5H133M136 122.5H139M142 122.5H145M148 122.5H151M154 122.5H157M160 122.5H163M166 122.5H169M172 122.5H175M178 122.5H181M184 122.5H187M190 122.5H193M196 122.5H199M202 122.5H205M208 122.5H211M214 122.5H217M220 122.5H223M226 122.5H229M232 122.5H235M238 122.5H241M244 122.5H247M250 122.5H253M256 122.5H259M262 122.5H265M268 122.5H271M274 122.5H277M280 122.5H283M286 122.5H289M292 122.5H295M298 122.5H301M304 122.5H307M310 122.5H313M316 122.5H319M322 122.5H325M328 122.5H331M334 122.5H337M340 122.5H343M346 122.5H349M352 122.5H355M358 122.5H361M364 122.5H367M370 122.5H373M376 122.5H379M382 122.5H385M388 122.5H391M394 122.5H397M400 122.5H403M406 122.5H409M412 122.5H415M418 122.5H421M424 122.5H427M430 122.5H433M436 122.5H439M442 122.5H445M448 122.5H451M454 122.5H457M460 122.5H463M466 122.5H469M472 122.5H475M478 122.5H481M484 122.5H487M490 122.5H493M496 122.5H499M502 122.5H505M508 122.5H511M514 122.5H517M520 122.5H523M526 122.5H529M532 122.5H535M538 122.5H541M544 122.5H547M550 122.5H553M556 122.5H559M562 122.5H565M568 122.5H571M574 122.5H577M580 122.5H583M586 122.5H589M592 122.5H595M598 122.5H601M604 122.5H607M610 122.5H613M616 122.5H619M622 122.5H625M628 122.5H631M634 122.5H637M640 122.5H643M646 122.5H649M652 122.5H655M658 122.5H661M664 122.5H667M670 122.5H673M676 122.5H679M682 122.5H685M688 122.5H691M694 122.5H697M700 122.5H703M706 122.5H709M712 122.5H715M718 122.5H721M724 122.5H727M730 122.5H733" stroke="#b0b0b0" stroke-width="1" fill="none"/>
<path d="M4 155.5H7M10 155.5H13M16 155.5H19M22 155.5H25M28 155.5H31M34 155.5H37M40 155.5H43M46 155.5H49M52 155.5H55M58 155.5H61M64 155.5H67M70 155.5H73M76 155.5H79M82 155.5H85M88 155.5H91M94 155.5H97M100 155.5H103M106 155.5H109M112 155.5H115M118 155.5H121M124 155.5H127M130 155.5H133M136 155.5H139M142 155.5H145M148 155.5H151M154 155.5H157M160 155.5H163M166 155.5H169M172 155.5H175M178 155.5H181M184 155.5H187M190 155.5H193M196 155.5H199M202 155.5H205M208 155.5H211M214 155.5H217M220 155.5H223M226 155.5H229M232 155.5H235M238 155.5H241M244 155.5H247M250 155.5H253M256 155.5H259M262 155.5H265M268 155.5H271M274 155.5H277M280 155.5H283M286 155.5H289M292 155.5H295M298 155.5H301M304 155.5H307M310 155.5H313M316 155.5H319M322 155.5H325M328 155.5H331M334 155.5H337M340 155.5H343M346 155.5H349M352 155.5H355M358 155.5H361M364 155.5H367M370 155.5H373M376 155.5H379M382 155.5H385M388 155.5H391M394 155.5H397M400 155.5H403M406 155.5H409M412 155.5H415M418 155.5H421M424 155.5H427M430 155.5H433M436 155.5H439M442 155.5H445M448 155.5H451M454 155.5H457M460 155.5H463M466 155.5H469M472 155.5H475M478 155.5H481M484 155.5H487M490 155.5H493M496 155.5H499M502 155.5H505M508 155.5H511M514 155.5H517M520 155.5H523M526 155.5H529M532 155.5H535M538 155.5H541M544 155.5H547M550 155.5H553M556 155.5H559M562 155.5H565M568 155.5H571M574 155.5H577M580 155.5H583M586 155.5H589M592 155.5H595M598 155.5H601M604 155.5H607M610 155.5H613M616 155.5H619M622 155.5H625M628 155.5H631M634 155.5H637M640 155.5H643M646 155.5H649M652 155.5H655M658 155.5H661M664 155.5H667M670 155.5H673M676 155.5H679M682 155.5H685M688 155.5H691M694 155.5H697M700 155.5H703M706 155.5H709M712 155.5H715M718 155.5H721M724 155.5H727M730 155.5H733" stroke="#b0b0b0" stroke-width="1" fill="none"/>
<path d="M4 188.5H7M10 188.5H13M16 188.5H19M22 188.5H25M28 188.5H31M34 188.5H37M40 188.5H43M46 188.5H49M52 188.5H55M58 188.5H61M64 188.5H67M70 188.5H73M76 188.5H79M82 188.5H85M88 188.5H91M94 188.5H97M100 188.5H103M106 188.5H109M112 188.5H115M118 188.5H121M124 188.5H127M130 188.5H133M136 188.5H139M142 188.5H145M148 188.5H151M154 188.5H157M160 188.5H163M166 188.5H169M172 188.5H175M178 188.5H181M184 188.5H187M190 188.5H193M196 188.5H199M202 188.5H205M208 188.5H211M214 188.5H217M220 188.5H223M226 188.5H229M232 188.5H235M238 188.5H241M244 188.5H247M250 188.5H253M256 188.5H259M262 188.5H265M268 188.5H271M274 188.5H277M280 188.5H283M286 188.5H289M292 188.5H295M298 188.5H301M304 188.5H307M310 188.5H313M316 188.5H319M322 188.5H325M328 188.5H331M334 188.5H337M340 188.5H343M346 188.5H349M352 188.5H355M358 188.5H361M364 188.5H367M370 188.5H373M376 188.5H379M382 188.5H385M388 188.5H391M394 188.5H397M400 188.5H403M406 188.5H409M412 188.5H415M418 188.5H421M424 188.5H427M430 188.5H433M436 188.5H439M442 188.5H445M448 188.5H451M454 188.5H457M460 188.5H463M466 188.5H469M472 188.5H475M478 188.5H481M484 188.5H487M490 188.5H493M496 188.5H499M502 188.5H505M508 188.5H511M514 188.5H517M520 188.5H523M526 188.5H529M532 188.5H535M538 188.5H541M544 188.5H547M550 188.5H553M556 188.5H559M562 188.5H565M568 188.5H571M574 188.5H577M580 188.5H583M586 188.5H589M592 188.5H595M598 188.5H601M604 188.5H607M610 188.5H613M616 188.5H619M622 188.5H625M628 188.5H631M634 188.5H637M640 188.5H643M646 188.5H649M652 188.5H655M658 188.5H661M664 188.5H667M670 188.5H673M676 188.5H679M682 188.5H685M688 188.5H691M694 188.5H697M700 188.5H703M706 188.5H709M712 188.5H715M718 188.5H721M724 188.5H727M730 188.5H733" stroke="#b0b0b0" stroke-width="1" fill="none"/>
<path d="M4 221.5H7M10 221.5H13M16 221.5H19M22 221.5H25M28 221.5H31M34 221.5H37M40 221.5H43M46 221.5H49M52 221.5H55M58 221.5H61M64 221.5H67M70 221.5H73M76 221.5H79M82 221.5H85M88 221.5H91M94 221.5H97M100 221.5H103M106 221.5H109M112 221.5H115M118 221.5H121M124 221.5H127M130 221.5H133M136 221.5H139M142 221.5H145M148 221.5H151M154 221.5H157M160 221.5H163M166 221.5H169M172 221.5H175M178 221.5H181M184 221.5H187M190 221.5H193M196 221.5H199M202 221.5H205M208 221.5H211M214 221.5H217M220 221.5H223M226 221.5H229M232 221.5H235M238 221.5H241M244 221.5H247M250 221.5H253M256 221.5H259M262 221.5H265M268 221.5H271M274 221.5H277M280 221.5H283M286 221.5H289M292 221.5H295M298 221.5H301M304 221.5H307M310 221.5H313M316 221.5H319M322 221.5H325M328 221.5H331M334 221.5H337M340 221.5H343M346 221.5H349M352 221.5H355M358 221.5H361M364 221.5H367M370 221.5H373M376 221.5H379M382 221.5H385M388 221.5H391M394 221.5H397M400 221.5H403M406 221.5H409M412 221.5H415M418 221.5H421M424 221.5H427M430 221.5H433M436 221.5H439M442 221.5H445M448 221.5H451M454 221.5H457M460 221.5H463M466 221.5H469M472 221.5H475M478 221.5H481M484 221.5H487M490 221.5H493M496 221.5H499M502 221.5H505M508 221.5H511M514 221.5H517M520 221.5H523M526 221.5H529M532 221.5H535M538 221.5H541M544 221.5H547M550 221.5H553M556 221.5H559M562 221.5H565M568 221.5H571M574 221.5H577M580 221.5H583M586 221.5H589M592 221.5H595M598 221.5H601M604 221.5H607M610 221.5H613M616 221.5H619M622 221.5H625M628 221.5H631M634 221.5H637M640 221.5H643M646 221.5H649M652 221.5H655M658 221.5H661M664 221.5H667M670 221.5H673M676 221.5H679M682 221.5H685M688 221.5H691M694 221.5H697M700 221.5H703M706 221.5H709M712 221.5H715M718 221.5H721M724 221.5H727M730 221.5H733" stroke="#b0b0b0" stroke-width="1" fill="none"/>
<path d="M4 254.5H7M10 254.5H13M16 254.5H19M22 254.5H25M28 254.5H31M34 254.5H37M40 254.5H43M46 254.5H49M52 254.5H55M58 254.5H61M64 254.5H67M70 254.5H73M76 254.5H79M82 254.5H85M88 254.5H91M94 254.5H97M100 254.5H103M106 254.5H109M112 254.5H115M118 254.5H121M124 254.5H127M130 254.5H133M136 254.5H139M142 254.5H145M148 254.5H151M154 254.5H157M160 254.5H163M166 254.5H169M172 254.5H175M178 254.5H181M184 254.5H187M190 254.5H193M196 254.5H199M202 254.5H205M208 254.5H211M214 254.5H217M220 254.5H223M226 254.5H229M232 254.5H235M238 254.5H241M244 254.5H247M250 254.5H253M256 254.5H259M262 254.5H265M268 254.5H271M274 254.5H277M280 254.5H283M286 254.5H289M292 254.5H295M298 254.5H301M304 254.5H307M310 254.5H313M316 254.5H319M322 254.5H325M328 254.5H331M334 254.5H337M340 254.5H343M346 254.5H349M352 254.5H355M358 254.5H361M364 254.5H367M370 254.5H373M376 254.5H379M382 254.5H385M388 254.5H391M394 254.5H397M400 254.5H403M406 254.5H409M412 254.5H415M418 254.5H421M424 254.5H427M430 254.5H433M436 254.5H439M442 254.5H445M448 254.5H451M454 254.5H457M460 254.5H463M466 254.5H469M472 254.5H475M478 254.5H481M484 254.5H487M490 254.5H493M496 254.5H499M502 254.5H505M508 254.5H511M514 254.5H517M520 254.5H523M526 254.5H529M532 254.5H535M538 254.5H541M544 254.5H547M550 254.5H553M556 254.5H559M562 254.5H565M568 254.5H571M574 254.5H577M580 254.5H583M586 254.5H589M592 254.5H595M598 254.5H601M604 254.5H607M610 254.5H613M616 254.5H619M622 254.5H625M628 254.5H631M634 254.5H637M640 254.5H643M646 254.5H649M652 254.5H655M658 254.5H661M664 254.5H667M670 254.5H673M676 254.5H679M682 254.5H685M688 254.5H691M694 254.5H697M700 254.5H703M706 254.5H709M712 254.5H715M718 254.5H721M724 254.5H727M730 254.5H733" stroke="#b0b0b0" stroke-width="1" fill="none"/>
<path d="M4 287.5H7M10 287.5H13M16 287.5H19M22 287.5H25M28 287.5H31M34 287.5H37M40 287.5H43M46 287.5H49M52 287.5H55M58 287.5H61M64 287.5H67M70 287.5H73M76 287.5H79M82 287.5H85M88 287.5H91M94 287.5H97M100 287.5H103M106 287.5H109M112 287.5H115M118 287.5H121M124 287.5H127M130 287.5H133M136 287.5H139M142 287.5H145M148 287.5H151M154 287.5H157M160 287.5H163M166 287.5H169M172 287.5H175M178 287.5H181M184 287.5H187M190 287.5H193M196 287.5H199M202 287.5H205M208 287.5H211M214 287.5H217M220 287.5H223M226 287.5H229M232 287.5H235M238 287.5H241M244 287.5H247M250 287.5H253M256 287.5H259M262 287.5H265M268 287.5H271M274 287.5H277M280 287.5H283M286 287.5H289M292 287.5H295M298 287.5H301M304 287.5H307M310 287.5H313M316 287.5H319M322 287.5H325M328 287.5H331M334 287.5H337M340 287.5H343M346 287.5H349M352 287.5H355M358 287.5H361M364 287.5H367M370 287.5H373M376 287.5H379M382 287.5H385M388 287.5H391M394 287.5H397M400 287.5H403M406 287.5H409M412 287.5H415M418 287.5H421M424 287.5H427M430 287.5H433M436 287.5H439M442 287.5H445M448 287.5H451M454 287.5H457M460 287.5H463M466 287.5H469M472 287.5H475M478 287.5H481M484 287.5H487M490 287.5H493M496 287.5H499M502 287.5H505M508 287.5H511M514 287.5H517M520 287.5H523M526 287.5H529M532 287.5H535M538 287.5H541M544 287.5H547M550 287.5H553M556 287.5H559M562 287.5H565M568 287.5H571M574 287.5H577M580 287.5H583M586 287.5H589M592 287.5H595M598 287.5H601M604 287.5H607M610 287.5H613M616 287.5H619M622 287.5H625M628 287.5H631M634 287.5H637M640 287.5H643M646 287.5H649M652 287.5H655M658 287.5H661M664 287.5H667M670 287.5H673M676 287.5H679M682 287.5H685M688 287.5H691M694 287.5H697M700 287.5H703M706 287.5H709M712 287.5H715M718 287.5H721M724 287.5H727M730 287.5H733" stroke="#b0b0b0" stroke-width="1" fill="none"/>
<path d="M4 320.5H7M10 320.5H13M16 320.5H19M22 320.5H25M28 320.5H31M34 320.5H37M40 320.5H43M46 320.5H49M52 320.5H55M58 320.5H61M64 320.5H67M70 320.5H73M76 320.5H79M82 320.5H85M88 320.5H91M94 320.5H97M100 320.5H103M106 320.5H109M112 320.5H115M118 320.5H121M124 320.5H127M130 320.5H133M136 320.5H139M142 320.5H145M148 320.5H151M154 320.5H157M160 320.5H163M166 320.5H169M172 320.5H175M178 320.5H181M184 320.5H187M190 320.5H193M196 320.5H199M202 320.5H205M208 320.5H211M214 320.5H217M220 320.5H223M226 320.5H229M232 320.5H235M238 320.5H241M244 320.5H247M250 320.5H253M256 320.5H259M262 320.5H265M268 320.5H271M274 320.5H277M280 320.5H283M286 320.5H289M292 320.5H295M298 320.5H301M304 320.5H307M310 320.5H313M316 320.5H319M322 320.5H325M328 320.5H331M334 320.5H337M340 320.5H343M346 320.5H349M352 320.5H355M358 320.5H361M364 320.5H367M370 320.5H373M376 320.5H379M382 320.5H385M388 320.5H391M394 320.5H397M400 320.5H403M406 320.5H409M412 320.5H415M418 320.5H421M424 320.5H427M430 320.5H433M436 320.5H439M442 320.5H445M448 320.5H451M454 320.5H457M460 320.5H463M466 320.5H469M472 320.5H475M478 320.5H481M484 320.5H487M490 320.5H493M496 320.5H499M502 320.5H505M508 320.5H511M514 320.5H517M520 320.5H523M526 320.5H529M532 320.5H535M538 320.5H541M544 320.5H547M550 320.5H553M556 320.5H559M562 320.5H565M568 320.5H571M574 320.5H577M580 320.5H583M586 320.5H589M592 320.5H595M598 320.5H601M604 320.5H607M610 320.5H613M616 320.5H619M622 320.5H625M628 320.5H631M634 320.5H637M640 320.5H643M646 320.5H649M652 320.5H655M658 320.5H661M664 320.5H667M670 320.5H673M676 320.5H679M682 320.5H685M688 320.5H691M694 320.5H697M700 320.5H703M706 320.5H709M712 320.5H715M718 320.5H721M724 320.5H727M730 320.5H733" stroke="#b0b0b0" stroke-width="1" fill="none"/>
<path d="M4 353.5H7M10 353.5H13M16 353.5H19M22 353.5H25M28 353.5H31M34 353.5H37M40 353.5H43M46 353.5H49M52 353.5H55M58 353.5H61M64 353.5H67M70 353.5H73M76 353.5H79M82 353.5H85M88 353.5H91M94 353.5H97M100 353.5H103M106 353.5H109M112 353.5H115M118 353.5H121M124 353.5H127M130 353.5H133M136 353.5H139M142 353.5H145M148 353.5H151M154 353.5H157M160 353.5H163M166 353.5H169M172 353.5H175M178 353.5H181M184 353.5H187M190 353.5H193M196 353.5H199M202 353.5H205M208 353.5H211M214 353.5H217M220 353.5H223M226 353.5H229M232 353.5H235M238 353.5H241M244 353.5H247M250 353.5H253M256 353.5H259M262 353.5H265M268 353.5H271M274 353.5H277M280 353.5H283M286 353.5H289M292 353.5H295M298 353.5H301M304 353.5H307M310 353.5H313M316 353.5H319M322 353.5H325M328 353.5H331M334 353.5H337M340 353.5H343M346 353.5H349M352 353.5H355M358 353.5H361M364 353.5H367M370 353.5H373M376 353.5H379M382 353.5H385M388 353.5H391M394 353.5H397M400 353.5H403M406 353.5H409M412 353.5H415M418 353.5H421M424 353.5H427M430 353.5H433M436 353.5H439M442 353.5H445M448 353.5H451M454 353.5H457M460 353.5H463M466 353.5H469M472 353.5H475M478 353.5H481M484 353.5H487M490 353.5H493M496 353.5H499M502 353.5H505M508 353.5H511M514 353.5H517M520 353.5H523M526 353.5H529M532 353.5H535M538 353.5H541M544 353.5H547M550 353.5H553M556 353.5H559M562 353.5H565M568 353.5H571M574 353.5H577M580 353.5H583M586 353.5H589M592 353.5H595M598 353.5H601M604 353.5H607M610 353.5H613M616 353.5H619M622 353.5H625M628 353.5H631M634 353.5H637M640 353.5H643M646 353.5H649M652 353.5H655M658 353.5H661M664 353.5H667M670 353.5H673M676 353.5H679M682 353.5H685M688 353.5H691M694 353.5H697M700 353.5H703M706 353.5H709M712 353.5H715M718 353.5H721M724 353.5H727M730 353.5H733" stroke="#b0b0b0" stroke-width="1" fill="none"/>
<path d="M4 386.5H7M10 386.5H13M16 386.5H19M22 386.5H25M28 386.5H31M34 386.5H37M40 386.5H43M46 386.5H49M52 386.5H55M58 386.5H61M64 386.5H67M70 386.5H73M76 386.5H79M82 386.5H85M88 386.5H91M94 386.5H97M100 386.5H103M106 386.5H109M112 386.5H115M118 386.5H121M124 386.5H127M130 386.5H133M136 386.5H139M142 386.5H145M148 386.5H151M154 386.5H157M160 386.5H163M166 386.5H169M172 386.5H175M178 386.5H181M184 386.5H187M190 386.5H193M196 386.5H199M202 386.5H205M208 386.5H211M214 386.5H217M220 386.5H223M226 386.5H229M232 386.5H235M238 386.5H241M244 386.5H247M250 386.5H253M256 386.5H259M262 386.5H265M268 386.5H271M274 386.5H277M280 386.5H283M286 386.5H289M292 386.5H295M298 386.5H301M304 386.5H307M310 386.5H313M316 386.5H319M322 386.5H325M328 386.5H331M334 386.5H337M340 386.5H343M346 386.5H349M352 386.5H355M358 386.5H361M364 386.5H367M370 386.5H373M376 386.5H379M382 386.5H385M388 386.5H391M394 386.5H397M400 386.5H403M406 386.5H409M412 386.5H415M418 386.5H421M424 386.5H427M430 386.5H433M436 386.5H439M442 386.5H445M448 386.5H451M454 386.5H457M460 386.5H463M466 386.5H469M472 386.5H475M478 386.5H481M484 386.5H487M490 386.5H493M496 386.5H499M502 386.5H505M508 386.5H511M514 386.5H517M520 386.5H523M526 386.5H529M532 386.5H535M538 386.5H541M544 386.5H547M550 386.5H553M556 386.5H559M562 386.5H565M568 386.5H571M574 386.5H577M580 386.5H583M586 386.5H589M592 386.5H595M598 386.5H601M604 386.5H607M610 386.5H613M616 386.5H619M622 386.5H625M628 386.5H631M634 386.5H637M640 386.5H643M646 386.5H649M652 386.5H655M658 386.5H661M664 386.5H667M670 386.5H673M676 386.5H679M682 386.5H685M688 386.5H691M694 386.5H697M700 386.5H703M706 386.5H709M712 386.5H715M718 386.5H721M724 386.5H727M730 386.5H733" stroke="#b0b0b0" stroke-width="1" fill="none"/>
<path d="M4 427.5H7M10 427.5H13M16 427.5H19M22 427.5H25M28 427.5H31M34 427.5H37M40 427.5H43M46 427.5H49M52 427.5H55M58 427.5H61M64 427.5H67M70 427.5H73M76 427.5H79M82 427.5H85M88 427.5H91M94 427.5H97M100 427.5H103M106 427.5H109M112 427.5H115M118 427.5H121M124 427.5H127M130 427.5H133M136 427.5H139M142 427.5H145M148 427.5H151M154 427.5H157M160 427.5H163M166 427.5H169M172 427.5H175M178 427.5H181M184 427.5H187M190 427.5H193M196 427.5H199M202 427.5H205M208 427.5H211M214 427.5H217M220 427.5H223M226 427.5H229M232 427.5H235M238 427.5H241M244 427.5H247M250 427.5H253M256 427.5H259M262 427.5H265M268 427.5H271M274 427.5H277M280 427.5H283M286 427.5H289M292 427.5H295M298 427.5H301M304 427.5H307M310 427.5H313M316 427.5H319M322 427.5H325M328 427.5H331M334 427.5H337M340 427.5H343M346 427.5H349M352 427.5H355M358 427.5H361M364 427.5H367M370 427.5H373M376 427.5H379M382 427.5H385M388 427.5H391M394 427.5H397M400 427.5H403M406 427.5H409M412 427.5H415M418 427.5H421M424 427.5H427M430 427.5H433M436 427.5H439M442 427.5H445M448 427.5H451M454 427.5H457M460 427.5H463M466 427.5H469M472 427.5H475M478 427.5H481M484 427.5H487M490 427.5H493M496 427.5H499M502 427.5H505M508 427.5H511M514 427.5H517M520 427.5H523M526 427.5H529M532 427.5H535M538 427.5H541M544 427.5H547M550 427.5H553M556 427.5H559M562 427.5H565M568 427.5H571M574 427.5H577M580 427.5H583M586 427.5H589M592 427.5H595M598 427.5H601M604 427.5H607M610 427.5H613M616 427.5H619M622 427.5H625M628 427.5H631M634 427.5H637M640 427.5H643M646 427.5H649M652 427.5H655M658 427.5H661M664 427.5H667M670 427.5H673M676 427.5H679M682 427.5H685M688 427.5H691M694 427.5H697M700 427.5H703M706 427.5H709M712 427.5H715M718 427.5H721M724 427.5H727M730 427.5H733" stroke="#b0b0b0" stroke-width="1" fill="none"/>
<path d="M299.5 3V5M299.5 8V11M299.5 14V17M299.5 20V23M299.5 26V29M299.5 32V35M299.5 38V41M299.5 44V47M299.5 50V53M299.5 56V59M299.5 62V65M299.5 68V71M299.5 74V77M299.5 80V83M299.5 86V89M299.5 92V95M299.5 98V101M299.5 104V107M299.5 110V113M299.5 116V119M299.5 122V125M299.5 128V131M299.5 134V137M299.5 140V143M299.5 146V149M299.5 152V155M299.5 158V161M299.5 164V167M299.5 170V173M299.5 176V179M299.5 182V185M299.5 188V191M299.5 194V197M299.5 200V203M299.5 206V209M299.5 212V215M299.5 218V221M299.5 224V227M299.5 230V233M299.5 236V239M299.5 242V245M299.5 248V251M299.5 254V257M299.5 260V263M299.5 266V269M299.5 272V275M299.5 278V281M299.5 284V287M299.5 290V293M299.5 296V299M299.5 302V305M299.5 308V311M299.5 314V317M299.5 320V323M299.5 326V329M299.5 332V335M299.5 338V341M299.5 344V347M299.5 350V353M299.5 356V359M299.5 362V365M299.5 368V371M299.5 374V377M299.5 380V383M299.5 386V389" stroke="#000" stroke-width="1" fill="none"/>
<path d="M299.5 392V395M299.5 398V401M299.5 404V407M299.5 410V413M299.5 416V419M299.5 422V425M299.5 428V431M299.5 434V437M299.5 440V443M299.5 446V449M299.5 452V455M299.5 458V461M299.5 464V467" stroke="#000" stroke-width="1" fill="none"/>
<rect x="3" y="244" width="732" height="1" fill="#c0c0c0"/>
</g>
<g shape-rendering="crispEdges">
<rect x="3" y="264" width="1" height="36" fill="#000"/>
<rect x="2" y="264" width="3" height="29" fill="#000"/>
<rect x="7" y="287" width="1" height="12" fill="#000"/>
<rect x="6" y="287" width="3" height="6" fill="#000"/>
<rect x="7" y="288" width="1" height="4" fill="#fff"/>
<rect x="11" y="287" width="1" height="14" fill="#000"/>
<rect x="10" y="288" width="3" height="10" fill="#000"/>
<rect x="15" y="273" width="1" height="30" fill="#000"/>
<rect x="14" y="275" width="3" height="22" fill="#000"/>
<rect x="15" y="276" width="1" height="20" fill="#fff"/>
<rect x="19" y="268" width="1" height="10" fill="#000"/>
<rect x="18" y="273" width="3" height="3" fill="#000"/>
<rect x="19" y="274" width="1" height="1" fill="#fff"/>
<rect x="23" y="268" width="1" height="11" fill="#000"/>
<rect x="22" y="271" width="3" height="3" fill="#000"/>
<rect x="23" y="272" width="1" height="1" fill="#fff"/>
<rect x="27" y="271" width="1" height="22" fill="#000"/>
<rect x="26" y="271" width="3" height="15" fill="#000"/>
<rect x="31" y="275" width="1" height="12" fill="#000"/>
<rect x="30" y="277" width="3" height="10" fill="#000"/>
<rect x="31" y="278" width="1" height="8" fill="#fff"/>
<rect x="35" y="262" width="1" height="16" fill="#000"/>
<rect x="34" y="270" width="3" height="6" fill="#000"/>
<rect x="35" y="271" width="1" height="4" fill="#fff"/>
<rect x="39" y="267" width="1" height="12" fill="#000"/>
<rect x="38" y="270" width="3" height="9" fill="#000"/>
<rect x="43" y="278" width="1" height="19" fill="#000"/>
<rect x="42" y="278" width="3" height="14" fill="#000"/>
<rect x="47" y="281" width="1" height="22" fill="#000"/>
<rect x="46" y="281" width="3" height="11" fill="#000"/>
<rect x="47" y="282" width="1" height="9" fill="#fff"/>
<rect x="51" y="273" width="1" height="15" fill="#000"/>
<rect x="50" y="279" width="3" height="6" fill="#000"/>
<rect x="55" y="271" width="1" height="14" fill="#000"/>
<rect x="54" y="272" width="3" height="13" fill="#000"/>
<rect x="55" y="273" width="1" height="11" fill="#fff"/>
<rect x="59" y="267" width="1" height="13" fill="#000"/>
<rect x="58" y="269" width="3" height="5" fill="#000"/>
<rect x="59" y="270" width="1" height="3" fill="#fff"/>
<rect x="63" y="255" width="1" height="16" fill="#000"/>
<rect x="62" y="266" width="3" height="4" fill="#000"/>
<rect x="63" y="267" width="1" height="2" fill="#fff"/>
<rect x="67" y="264" width="1" height="15" fill="#000"/>
<rect x="66" y="266" width="3" height="13" fill="#000"/>
<rect x="71" y="272" width="1" height="8" fill="#000"/>
<rect x="70" y="274" width="3" height="5" fill="#000"/>
<rect x="71" y="275" width="1" height="3" fill="#fff"/>
<rect x="75" y="272" width="1" height="9" fill="#000"/>
<rect x="74" y="277" width="3" height="2" fill="#000"/>
<rect x="79" y="265" width="1" height="11" fill="#000"/>
<rect x="78" y="272" width="3" height="4" fill="#000"/>
<rect x="79" y="273" width="1" height="2" fill="#fff"/>
<rect x="83" y="263" width="1" height="13" fill="#000"/>
<rect x="82" y="264" width="3" height="10" fill="#000"/>
<rect x="83" y="265" width="1" height="8" fill="#fff"/>
<rect x="87" y="252" width="1" height="13" fill="#000"/>
<rect x="86" y="253" width="3" height="10" fill="#000"/>
<rect x="87" y="254" width="1" height="8" fill="#fff"/>
<rect x="91" y="247" width="1" height="8" fill="#000"/>
<rect x="90" y="248" width="3" height="6" fill="#000"/>
<rect x="91" y="249" width="1" height="4" fill="#fff"/>
<rect x="95" y="235" width="1" height="13" fill="#000"/>
<rect x="94" y="237" width="3" height="11" fill="#000"/>
<rect x="95" y="238" width="1" height="9" fill="#fff"/>
<rect x="99" y="237" width="1" height="15" fill="#000"/>
<rect x="98" y="241" width="3" height="10" fill="#000"/>
<rect x="103" y="234" width="1" height="17" fill="#000"/>
<rect x="102" y="238" width="3" height="12" fill="#000"/>
<rect x="103" y="239" width="1" height="10" fill="#fff"/>
<rect x="107" y="235" width="1" height="17" fill="#000"/>
<rect x="106" y="237" width="3" height="15" fill="#000"/>
<rect x="111" y="244" width="1" height="14" fill="#000"/>
<rect x="110" y="254" width="3" height="3" fill="#000"/>
<rect x="115" y="256" width="1" height="9" fill="#000"/>
<rect x="114" y="256" width="3" height="9" fill="#000"/>
<rect x="119" y="256" width="1" height="8" fill="#000"/>
<rect x="118" y="257" width="3" height="7" fill="#000"/>
<rect x="119" y="258" width="1" height="5" fill="#fff"/>
<rect x="123" y="241" width="1" height="20" fill="#000"/>
<rect x="122" y="246" width="3" height="13" fill="#000"/>
<rect x="123" y="247" width="1" height="11" fill="#fff"/>
<rect x="127" y="245" width="1" height="7" fill="#000"/>
<rect x="126" y="246" width="3" height="6" fill="#000"/>
<rect x="131" y="245" width="1" height="10" fill="#000"/>
<rect x="130" y="250" width="3" height="1" fill="#000"/>
<rect x="135" y="245" width="1" height="6" fill="#000"/>
<rect x="134" y="246" width="3" height="4" fill="#000"/>
<rect x="135" y="247" width="1" height="2" fill="#fff"/>
<rect x="139" y="242" width="1" height="7" fill="#000"/>
<rect x="138" y="244" width="3" height="3" fill="#000"/>
<rect x="139" y="245" width="1" height="1" fill="#fff"/>
<rect x="143" y="237" width="1" height="12" fill="#000"/>
<rect x="142" y="239" width="3" height="6" fill="#000"/>
<rect x="143" y="240" width="1" height="4" fill="#fff"/>
<rect x="147" y="239" width="1" height="16" fill="#000"/>
<rect x="146" y="239" width="3" height="16" fill="#000"/>
<rect x="151" y="252" width="1" height="18" fill="#000"/>
<rect x="150" y="255" width="3" height="15" fill="#000"/>
<rect x="155" y="266" width="1" height="7" fill="#000"/>
<rect x="154" y="267" width="3" height="2" fill="#000"/>
<rect x="159" y="246" width="1" height="16" fill="#000"/>
<rect x="158" y="247" width="3" height="13" fill="#000"/>
<rect x="159" y="248" width="1" height="11" fill="#fff"/>
<rect x="163" y="245" width="1" height="6" fill="#000"/>
<rect x="162" y="247" width="3" height="1" fill="#000"/>
<rect x="167" y="245" width="1" height="6" fill="#000"/>
<rect x="166" y="248" width="3" height="3" fill="#000"/>
<rect x="171" y="254" width="1" height="5" fill="#000"/>
<rect x="170" y="254" width="3" height="2" fill="#000"/>
<rect x="175" y="253" width="1" height="4" fill="#000"/>
<rect x="174" y="253" width="3" height="4" fill="#000"/>
<rect x="175" y="254" width="1" height="2" fill="#fff"/>
<rect x="179" y="253" width="1" height="8" fill="#000"/>
<rect x="178" y="254" width="3" height="7" fill="#000"/>
<rect x="183" y="240" width="1" height="19" fill="#000"/>
<rect x="182" y="240" width="3" height="19" fill="#000"/>
<rect x="183" y="241" width="1" height="17" fill="#fff"/>
<rect x="187" y="217" width="1" height="23" fill="#000"/>
<rect x="186" y="226" width="3" height="14" fill="#000"/>
<rect x="187" y="227" width="1" height="12" fill="#fff"/>
<rect x="191" y="212" width="1" height="14" fill="#000"/>
<rect x="190" y="217" width="3" height="9" fill="#000"/>
<rect x="191" y="218" width="1" height="7" fill="#fff"/>
<rect x="195" y="209" width="1" height="15" fill="#000"/>
<rect x="194" y="216" width="3" height="8" fill="#000"/>
<rect x="199" y="221" width="1" height="15" fill="#000"/>
<rect x="198" y="223" width="3" height="11" fill="#000"/>
<rect x="203" y="231" width="1" height="5" fill="#000"/>
<rect x="202" y="233" width="3" height="2" fill="#000"/>
<rect x="207" y="219" width="1" height="17" fill="#000"/>
<rect x="206" y="219" width="3" height="14" fill="#000"/>
<rect x="207" y="220" width="1" height="12" fill="#fff"/>
<rect x="211" y="206" width="1" height="15" fill="#000"/>
<rect x="210" y="207" width="3" height="14" fill="#000"/>
<rect x="211" y="208" width="1" height="12" fill="#fff"/>
<rect x="215" y="207" width="1" height="12" fill="#000"/>
<rect x="214" y="207" width="3" height="3" fill="#000"/>
<rect x="219" y="212" width="1" height="14" fill="#000"/>
<rect x="218" y="212" width="3" height="11" fill="#000"/>
<rect x="223" y="216" width="1" height="9" fill="#000"/>
<rect x="222" y="218" width="3" height="6" fill="#000"/>
<rect x="227" y="222" width="1" height="11" fill="#000"/>
<rect x="226" y="223" width="3" height="1" fill="#000"/>
<rect x="231" y="207" width="1" height="16" fill="#000"/>
<rect x="230" y="211" width="3" height="12" fill="#000"/>
<rect x="231" y="212" width="1" height="10" fill="#fff"/>
<rect x="235" y="202" width="1" height="8" fill="#000"/>
<rect x="234" y="203" width="3" height="7" fill="#000"/>
<rect x="235" y="204" width="1" height="5" fill="#fff"/>
<rect x="239" y="200" width="1" height="4" fill="#000"/>
<rect x="238" y="203" width="3" height="1" fill="#000"/>
<rect x="243" y="208" width="1" height="7" fill="#000"/>
<rect x="242" y="208" width="3" height="7" fill="#000"/>
<rect x="247" y="209" width="1" height="15" fill="#000"/>
<rect x="246" y="214" width="3" height="2" fill="#000"/>
<rect x="251" y="215" width="1" height="16" fill="#000"/>
<rect x="250" y="218" width="3" height="12" fill="#000"/>
<rect x="255" y="223" width="1" height="32" fill="#000"/>
<rect x="254" y="229" width="3" height="18" fill="#000"/>
<rect x="259" y="246" width="1" height="10" fill="#000"/>
<rect x="258" y="247" width="3" height="2" fill="#000"/>
<rect x="263" y="249" width="1" height="10" fill="#000"/>
<rect x="262" y="249" width="3" height="6" fill="#000"/>
<rect x="267" y="248" width="1" height="6" fill="#000"/>
<rect x="266" y="251" width="3" height="3" fill="#000"/>
<rect x="271" y="254" width="1" height="9" fill="#000"/>
<rect x="270" y="254" width="3" height="6" fill="#000"/>
<rect x="275" y="259" width="1" height="4" fill="#000"/>
<rect x="274" y="259" width="3" height="4" fill="#000"/>
<rect x="279" y="256" width="1" height="14" fill="#000"/>
<rect x="278" y="260" width="3" height="10" fill="#000"/>
<rect x="283" y="262" width="1" height="7" fill="#000"/>
<rect x="282" y="262" width="3" height="7" fill="#000"/>
<rect x="283" y="263" width="1" height="5" fill="#fff"/>
<rect x="287" y="256" width="1" height="13" fill="#000"/>
<rect x="286" y="261" width="3" height="8" fill="#000"/>
<rect x="291" y="263" width="1" height="8" fill="#000"/>
<rect x="290" y="264" width="3" height="6" fill="#000"/>
<rect x="291" y="265" width="1" height="4" fill="#fff"/>
<rect x="295" y="255" width="1" height="10" fill="#000"/>
<rect x="294" y="258" width="3" height="5" fill="#000"/>
<rect x="295" y="259" width="1" height="3" fill="#fff"/>
<rect x="299" y="247" width="1" height="11" fill="#000"/>
<rect x="298" y="247" width="3" height="11" fill="#000"/>
<rect x="299" y="248" width="1" height="9" fill="#fff"/>
<rect x="303" y="239" width="1" height="13" fill="#000"/>
<rect x="302" y="245" width="3" height="5" fill="#000"/>
<rect x="307" y="251" width="1" height="22" fill="#000"/>
<rect x="306" y="251" width="3" height="22" fill="#000"/>
<rect x="311" y="260" width="1" height="10" fill="#000"/>
<rect x="310" y="260" width="3" height="9" fill="#000"/>
<rect x="311" y="261" width="1" height="7" fill="#fff"/>
<rect x="315" y="249" width="1" height="10" fill="#000"/>
<rect x="314" y="250" width="3" height="9" fill="#000"/>
<rect x="315" y="251" width="1" height="7" fill="#fff"/>
<rect x="319" y="246" width="1" height="6" fill="#000"/>
<rect x="318" y="247" width="3" height="4" fill="#000"/>
<rect x="319" y="248" width="1" height="2" fill="#fff"/>
<rect x="323" y="239" width="1" height="12" fill="#000"/>
<rect x="322" y="239" width="3" height="11" fill="#000"/>
<rect x="323" y="240" width="1" height="9" fill="#fff"/>
<rect x="327" y="235" width="1" height="5" fill="#000"/>
<rect x="326" y="237" width="3" height="3" fill="#000"/>
<rect x="327" y="238" width="1" height="1" fill="#fff"/>
<rect x="331" y="236" width="1" height="3" fill="#000"/>
<rect x="330" y="236" width="3" height="3" fill="#000"/>
<rect x="335" y="212" width="1" height="27" fill="#000"/>
<rect x="334" y="213" width="3" height="26" fill="#000"/>
<rect x="335" y="214" width="1" height="24" fill="#fff"/>
<rect x="339" y="205" width="1" height="10" fill="#000"/>
<rect x="338" y="213" width="3" height="2" fill="#000"/>
<rect x="343" y="204" width="1" height="9" fill="#000"/>
<rect x="342" y="209" width="3" height="4" fill="#000"/>
<rect x="347" y="204" width="1" height="17" fill="#000"/>
<rect x="346" y="209" width="3" height="12" fill="#000"/>
<rect x="351" y="212" width="1" height="9" fill="#000"/>
<rect x="350" y="212" width="3" height="9" fill="#000"/>
<rect x="351" y="213" width="1" height="7" fill="#fff"/>
<rect x="355" y="206" width="1" height="6" fill="#000"/>
<rect x="354" y="209" width="3" height="3" fill="#000"/>
<rect x="359" y="203" width="1" height="12" fill="#000"/>
<rect x="358" y="209" width="3" height="5" fill="#000"/>
<rect x="363" y="206" width="1" height="10" fill="#000"/>
<rect x="362" y="210" width="3" height="4" fill="#000"/>
<rect x="363" y="211" width="1" height="2" fill="#fff"/>
<rect x="367" y="205" width="1" height="6" fill="#000"/>
<rect x="366" y="208" width="3" height="3" fill="#000"/>
<rect x="367" y="209" width="1" height="1" fill="#fff"/>
<rect x="371" y="206" width="1" height="11" fill="#000"/>
<rect x="370" y="208" width="3" height="8" fill="#000"/>
<rect x="375" y="212" width="1" height="14" fill="#000"/>
<rect x="374" y="215" width="3" height="7" fill="#000"/>
<rect x="379" y="216" width="1" height="7" fill="#000"/>
<rect x="378" y="216" width="3" height="6" fill="#000"/>
<rect x="379" y="217" width="1" height="4" fill="#fff"/>
<rect x="383" y="207" width="1" height="13" fill="#000"/>
<rect x="382" y="212" width="3" height="5" fill="#000"/>
<rect x="383" y="213" width="1" height="3" fill="#fff"/>
<rect x="387" y="212" width="1" height="17" fill="#000"/>
<rect x="386" y="212" width="3" height="15" fill="#000"/>
<rect x="391" y="219" width="1" height="5" fill="#000"/>
<rect x="390" y="221" width="3" height="2" fill="#000"/>
<rect x="395" y="217" width="1" height="10" fill="#000"/>
<rect x="394" y="217" width="3" height="5" fill="#000"/>
<rect x="395" y="218" width="1" height="3" fill="#fff"/>
<rect x="399" y="207" width="1" height="11" fill="#000"/>
<rect x="398" y="208" width="3" height="10" fill="#000"/>
<rect x="399" y="209" width="1" height="8" fill="#fff"/>
<rect x="403" y="208" width="1" height="21" fill="#000"/>
<rect x="402" y="208" width="3" height="13" fill="#000"/>
<rect x="407" y="213" width="1" height="8" fill="#000"/>
<rect x="406" y="216" width="3" height="5" fill="#000"/>
<rect x="407" y="217" width="1" height="3" fill="#fff"/>
<rect x="411" y="205" width="1" height="10" fill="#000"/>
<rect x="410" y="213" width="3" height="1" fill="#000"/>
<rect x="415" y="213" width="1" height="16" fill="#000"/>
<rect x="414" y="213" width="3" height="14" fill="#000"/>
<rect x="419" y="219" width="1" height="10" fill="#000"/>
<rect x="418" y="221" width="3" height="8" fill="#000"/>
<rect x="419" y="222" width="1" height="6" fill="#fff"/>
<rect x="423" y="219" width="1" height="21" fill="#000"/>
<rect x="422" y="221" width="3" height="19" fill="#000"/>
<rect x="427" y="228" width="1" height="12" fill="#000"/>
<rect x="426" y="235" width="3" height="4" fill="#000"/>
<rect x="427" y="236" width="1" height="2" fill="#fff"/>
<rect x="431" y="215" width="1" height="25" fill="#000"/>
<rect x="430" y="216" width="3" height="14" fill="#000"/>
<rect x="431" y="217" width="1" height="12" fill="#fff"/>
<rect x="435" y="212" width="1" height="5" fill="#000"/>
<rect x="434" y="212" width="3" height="5" fill="#000"/>
<rect x="435" y="213" width="1" height="3" fill="#fff"/>
<rect x="439" y="190" width="1" height="20" fill="#000"/>
<rect x="438" y="196" width="3" height="14" fill="#000"/>
<rect x="439" y="197" width="1" height="12" fill="#fff"/>
<rect x="443" y="189" width="1" height="17" fill="#000"/>
<rect x="442" y="196" width="3" height="10" fill="#000"/>
<rect x="447" y="194" width="1" height="11" fill="#000"/>
<rect x="446" y="201" width="3" height="4" fill="#000"/>
<rect x="447" y="202" width="1" height="2" fill="#fff"/>
<rect x="451" y="188" width="1" height="13" fill="#000"/>
<rect x="450" y="188" width="3" height="13" fill="#000"/>
<rect x="451" y="189" width="1" height="11" fill="#fff"/>
<rect x="455" y="125" width="1" height="64" fill="#000"/>
<rect x="454" y="125" width="3" height="64" fill="#000"/>
<rect x="455" y="126" width="1" height="62" fill="#fff"/>
<rect x="459" y="116" width="1" height="26" fill="#000"/>
<rect x="458" y="124" width="3" height="18" fill="#000"/>
<rect x="463" y="125" width="1" height="26" fill="#000"/>
<rect x="462" y="141" width="3" height="8" fill="#000"/>
<rect x="467" y="148" width="1" height="16" fill="#000"/>
<rect x="466" y="148" width="3" height="11" fill="#000"/>
<rect x="471" y="159" width="1" height="20" fill="#000"/>
<rect x="470" y="159" width="3" height="17" fill="#000"/>
<rect x="475" y="174" width="1" height="14" fill="#000"/>
<rect x="474" y="175" width="3" height="6" fill="#000"/>
<rect x="479" y="165" width="1" height="15" fill="#000"/>
<rect x="478" y="165" width="3" height="15" fill="#000"/>
<rect x="479" y="166" width="1" height="13" fill="#fff"/>
<rect x="483" y="160" width="1" height="19" fill="#000"/>
<rect x="482" y="162" width="3" height="17" fill="#000"/>
<rect x="487" y="181" width="1" height="29" fill="#000"/>
<rect x="486" y="181" width="3" height="23" fill="#000"/>
<rect x="491" y="200" width="1" height="28" fill="#000"/>
<rect x="490" y="202" width="3" height="20" fill="#000"/>
<rect x="495" y="211" width="1" height="20" fill="#000"/>
<rect x="494" y="211" width="3" height="11" fill="#000"/>
<rect x="495" y="212" width="1" height="9" fill="#fff"/>
<rect x="499" y="189" width="1" height="19" fill="#000"/>
<rect x="498" y="190" width="3" height="18" fill="#000"/>
<rect x="499" y="191" width="1" height="16" fill="#fff"/>
<rect x="503" y="192" width="1" height="14" fill="#000"/>
<rect x="502" y="192" width="3" height="10" fill="#000"/>
<rect x="507" y="198" width="1" height="8" fill="#000"/>
<rect x="506" y="198" width="3" height="3" fill="#000"/>
<rect x="507" y="199" width="1" height="1" fill="#fff"/>
<rect x="511" y="184" width="1" height="14" fill="#000"/>
<rect x="510" y="185" width="3" height="13" fill="#000"/>
<rect x="511" y="186" width="1" height="11" fill="#fff"/>
<rect x="515" y="156" width="1" height="32" fill="#000"/>
<rect x="514" y="160" width="3" height="25" fill="#000"/>
<rect x="515" y="161" width="1" height="23" fill="#fff"/>
<rect x="519" y="130" width="1" height="32" fill="#000"/>
<rect x="518" y="138" width="3" height="23" fill="#000"/>
<rect x="519" y="139" width="1" height="21" fill="#fff"/>
<rect x="523" y="131" width="1" height="14" fill="#000"/>
<rect x="522" y="135" width="3" height="4" fill="#000"/>
<rect x="523" y="136" width="1" height="2" fill="#fff"/>
<rect x="527" y="132" width="1" height="35" fill="#000"/>
<rect x="526" y="134" width="3" height="31" fill="#000"/>
<rect x="531" y="149" width="1" height="16" fill="#000"/>
<rect x="530" y="154" width="3" height="7" fill="#000"/>
<rect x="531" y="155" width="1" height="5" fill="#fff"/>
<rect x="535" y="154" width="1" height="8" fill="#000"/>
<rect x="534" y="154" width="3" height="1" fill="#000"/>
<rect x="539" y="149" width="1" height="9" fill="#000"/>
<rect x="538" y="149" width="3" height="7" fill="#000"/>
<rect x="539" y="150" width="1" height="5" fill="#fff"/>
<rect x="543" y="140" width="1" height="8" fill="#000"/>
<rect x="542" y="143" width="3" height="5" fill="#000"/>
<rect x="543" y="144" width="1" height="3" fill="#fff"/>
<rect x="547" y="138" width="1" height="8" fill="#000"/>
<rect x="546" y="141" width="3" height="1" fill="#000"/>
<rect x="551" y="137" width="1" height="6" fill="#000"/>
<rect x="550" y="138" width="3" height="2" fill="#000"/>
<rect x="555" y="132" width="1" height="8" fill="#000"/>
<rect x="554" y="135" width="3" height="3" fill="#000"/>
<rect x="555" y="136" width="1" height="1" fill="#fff"/>
<rect x="559" y="130" width="1" height="19" fill="#000"/>
<rect x="558" y="134" width="3" height="15" fill="#000"/>
<rect x="563" y="144" width="1" height="11" fill="#000"/>
<rect x="562" y="149" width="3" height="5" fill="#000"/>
<rect x="563" y="150" width="1" height="3" fill="#fff"/>
<rect x="567" y="151" width="1" height="19" fill="#000"/>
<rect x="566" y="151" width="3" height="10" fill="#000"/>
<rect x="571" y="158" width="1" height="14" fill="#000"/>
<rect x="570" y="159" width="3" height="13" fill="#000"/>
<rect x="575" y="163" width="1" height="12" fill="#000"/>
<rect x="574" y="167" width="3" height="5" fill="#000"/>
<rect x="575" y="168" width="1" height="3" fill="#fff"/>
<rect x="579" y="162" width="1" height="8" fill="#000"/>
<rect x="578" y="164" width="3" height="1" fill="#000"/>
<rect x="583" y="163" width="1" height="7" fill="#000"/>
<rect x="582" y="165" width="3" height="4" fill="#000"/>
<rect x="587" y="163" width="1" height="6" fill="#000"/>
<rect x="586" y="166" width="3" height="3" fill="#000"/>
<rect x="587" y="167" width="1" height="1" fill="#fff"/>
<rect x="591" y="164" width="1" height="8" fill="#000"/>
<rect x="590" y="165" width="3" height="2" fill="#000"/>
<rect x="595" y="165" width="1" height="26" fill="#000"/>
<rect x="594" y="165" width="3" height="24" fill="#000"/>
<rect x="599" y="182" width="1" height="11" fill="#000"/>
<rect x="598" y="184" width="3" height="5" fill="#000"/>
<rect x="603" y="184" width="1" height="11" fill="#000"/>
<rect x="602" y="184" width="3" height="6" fill="#000"/>
<rect x="603" y="185" width="1" height="4" fill="#fff"/>
<rect x="607" y="188" width="1" height="8" fill="#000"/>
<rect x="606" y="188" width="3" height="8" fill="#000"/>
<rect x="611" y="190" width="1" height="7" fill="#000"/>
<rect x="610" y="194" width="3" height="2" fill="#000"/>
<rect x="615" y="191" width="1" height="12" fill="#000"/>
<rect x="614" y="195" width="3" height="8" fill="#000"/>
<rect x="619" y="197" width="1" height="13" fill="#000"/>
<rect x="618" y="198" width="3" height="3" fill="#000"/>
<rect x="623" y="199" width="1" height="9" fill="#000"/>
<rect x="622" y="201" width="3" height="4" fill="#000"/>
<rect x="627" y="203" width="1" height="7" fill="#000"/>
<rect x="626" y="205" width="3" height="3" fill="#000"/>
<rect x="631" y="208" width="1" height="6" fill="#000"/>
<rect x="630" y="210" width="3" height="1" fill="#000"/>
<rect x="635" y="213" width="1" height="11" fill="#000"/>
<rect x="634" y="213" width="3" height="11" fill="#000"/>
<rect x="639" y="218" width="1" height="11" fill="#000"/>
<rect x="638" y="220" width="3" height="6" fill="#000"/>
<rect x="639" y="221" width="1" height="4" fill="#fff"/>
<rect x="643" y="220" width="1" height="15" fill="#000"/>
<rect x="642" y="220" width="3" height="15" fill="#000"/>
<rect x="647" y="226" width="1" height="13" fill="#000"/>
<rect x="646" y="231" width="3" height="5" fill="#000"/>
<rect x="647" y="232" width="1" height="3" fill="#fff"/>
<rect x="651" y="219" width="1" height="17" fill="#000"/>
<rect x="650" y="231" width="3" height="3" fill="#000"/>
<rect x="655" y="225" width="1" height="11" fill="#000"/>
<rect x="654" y="227" width="3" height="9" fill="#000"/>
<rect x="655" y="228" width="1" height="7" fill="#fff"/>
<rect x="659" y="226" width="1" height="22" fill="#000"/>
<rect x="658" y="226" width="3" height="22" fill="#000"/>
<rect x="663" y="240" width="1" height="9" fill="#000"/>
<rect x="662" y="241" width="3" height="8" fill="#000"/>
<rect x="663" y="242" width="1" height="6" fill="#fff"/>
<rect x="667" y="237" width="1" height="13" fill="#000"/>
<rect x="666" y="241" width="3" height="8" fill="#000"/>
<rect x="671" y="238" width="1" height="16" fill="#000"/>
<rect x="670" y="240" width="3" height="11" fill="#000"/>
<rect x="671" y="241" width="1" height="9" fill="#fff"/>
<rect x="675" y="236" width="1" height="9" fill="#000"/>
<rect x="674" y="239" width="3" height="1" fill="#000"/>
<rect x="679" y="235" width="1" height="13" fill="#000"/>
<rect x="678" y="239" width="3" height="9" fill="#000"/>
<rect x="683" y="242" width="1" height="6" fill="#000"/>
<rect x="682" y="243" width="3" height="5" fill="#000"/>
<rect x="683" y="244" width="1" height="3" fill="#fff"/>
<rect x="687" y="245" width="1" height="23" fill="#000"/>
<rect x="686" y="245" width="3" height="16" fill="#000"/>
<rect x="691" y="251" width="1" height="12" fill="#000"/>
<rect x="690" y="255" width="3" height="5" fill="#000"/>
<rect x="691" y="256" width="1" height="3" fill="#fff"/>
<rect x="695" y="248" width="1" height="8" fill="#000"/>
<rect x="694" y="253" width="3" height="3" fill="#000"/>
<rect x="695" y="254" width="1" height="1" fill="#fff"/>
<rect x="699" y="244" width="1" height="10" fill="#000"/>
<rect x="698" y="244" width="3" height="10" fill="#000"/>
<rect x="699" y="245" width="1" height="8" fill="#fff"/>
<rect x="703" y="239" width="1" height="8" fill="#000"/>
<rect x="702" y="244" width="3" height="3" fill="#000"/>
<rect x="707" y="244" width="1" height="4" fill="#000"/>
<rect x="706" y="244" width="3" height="1" fill="#000"/>
</g>
<clipPath id="cm"><rect x="3" y="3" width="732" height="386"/></clipPath>
<polyline clip-path="url(#cm)" points="-2,197 3,199.6 16.6,206.6 33.3,214.1 50,222 66.6,228.6 83.2,237.8 99.8,246.2 108,250 116.5,253.7 120,255.6 132.5,259.8 145,262.4 157.5,263.2 170,263.2 182.4,262 195,260 207.4,257 220,253.3 232.4,249.5 244.8,245.2 257.3,242 269.8,241.2 282,241.2 295,241.8 300,242.4 310,242.4 320,242.4 330,242.2 335,241.6 341,240.5 351.2,238.6 361.5,236 371.7,233.5 380,232.1 389,231.4 408,231.6 440,231.5 445,231.1 449.4,230.4 455.3,227.6 462,224.3 470,220.8 478,217.2 482.5,215.2 489,213 495,211.2 501.4,209.9 507,208.6 511.4,207.3 516,205 520.2,202.6 526.5,200.1 532.7,197.6 539,195.2 545.3,192.8 551.5,190.5 557.8,188.4 563,187 568,185.6 572.5,184.7 579,183 585.1,181.6 591.5,180.2 597.6,179.1 604,178.1 610.2,177.3 616.5,176.6 622.7,176 629,175.8 635.3,175.8 641.5,176 647.8,176.6 652,178 655,179.6 658,181 661.4,182.6 667.6,185 673.9,187.6 680.2,190.4 686.5,192.5 692.7,193.2 699,194.9 705.3,196.3 707,196.5" fill="none" stroke="#00ff00" stroke-width="5" stroke-linejoin="round" stroke-linecap="round" shape-rendering="crispEdges"/>
<g shape-rendering="crispEdges">
<rect x="3" y="114" width="732" height="2" fill="#008000"/>
<rect x="3" y="210" width="732" height="2" fill="#008000"/>
<rect x="3" y="276" width="732" height="2" fill="#ff0000"/>
<rect x="3" y="372" width="732" height="2" fill="#ff0000"/>
<rect x="3" y="427" width="1" height="31" fill="#ff0000"/>
<rect x="7" y="427" width="1" height="33" fill="#ff0000"/>
<rect x="11" y="427" width="1" height="34" fill="#ff0000"/>
<rect x="15" y="427" width="1" height="36" fill="#ff0000"/>
<rect x="19" y="427" width="1" height="37" fill="#ff0000"/>
<rect x="23" y="427" width="1" height="34" fill="#008000"/>
<rect x="27" y="427" width="1" height="31" fill="#008000"/>
<rect x="31" y="427" width="1" height="28" fill="#008000"/>
<rect x="35" y="427" width="1" height="24" fill="#008000"/>
<rect x="39" y="427" width="1" height="22" fill="#008000"/>
<rect x="43" y="427" width="1" height="21" fill="#008000"/>
<rect x="47" y="427" width="1" height="20" fill="#008000"/>
<rect x="51" y="427" width="1" height="18" fill="#008000"/>
<rect x="55" y="427" width="1" height="17" fill="#008000"/>
<rect x="59" y="427" width="1" height="15" fill="#008000"/>
<rect x="63" y="427" width="1" height="12" fill="#008000"/>
<rect x="67" y="427" width="1" height="8" fill="#008000"/>
<rect x="71" y="427" width="1" height="5" fill="#008000"/>
<rect x="75" y="427" width="1" height="3" fill="#008000"/>
<rect x="79" y="427" width="1" height="2" fill="#008000"/>
<rect x="83" y="427" width="1" height="2" fill="#008000"/>
<rect x="87" y="427" width="1" height="2" fill="#008000"/>
<rect x="91" y="425" width="1" height="3" fill="#008000"/>
<rect x="95" y="421" width="1" height="7" fill="#008000"/>
<rect x="99" y="418" width="1" height="10" fill="#008000"/>
<rect x="103" y="415" width="1" height="13" fill="#008000"/>
<rect x="107" y="414" width="1" height="14" fill="#008000"/>
<rect x="111" y="415" width="1" height="13" fill="#ff0000"/>
<rect x="115" y="417" width="1" height="11" fill="#ff0000"/>
<rect x="119" y="418" width="1" height="10" fill="#ff0000"/>
<rect x="123" y="419" width="1" height="9" fill="#ff0000"/>
<rect x="127" y="420" width="1" height="8" fill="#ff0000"/>
<rect x="131" y="420" width="1" height="8" fill="#008000"/>
<rect x="135" y="419" width="1" height="9" fill="#008000"/>
<rect x="139" y="418" width="1" height="10" fill="#008000"/>
<rect x="143" y="418" width="1" height="10" fill="#008000"/>
<rect x="147" y="418" width="1" height="10" fill="#ff0000"/>
<rect x="151" y="420" width="1" height="8" fill="#ff0000"/>
<rect x="155" y="422" width="1" height="6" fill="#ff0000"/>
<rect x="159" y="424" width="1" height="4" fill="#ff0000"/>
<rect x="163" y="425" width="1" height="3" fill="#ff0000"/>
<rect x="167" y="425" width="1" height="3" fill="#ff0000"/>
<rect x="171" y="425" width="1" height="3" fill="#008000"/>
<rect x="175" y="424" width="1" height="4" fill="#008000"/>
<rect x="179" y="425" width="1" height="3" fill="#ff0000"/>
<rect x="183" y="426" width="1" height="2" fill="#ff0000"/>
<rect x="187" y="424" width="1" height="4" fill="#008000"/>
<rect x="191" y="421" width="1" height="7" fill="#008000"/>
<rect x="195" y="418" width="1" height="10" fill="#008000"/>
<rect x="199" y="415" width="1" height="13" fill="#008000"/>
<rect x="203" y="414" width="1" height="14" fill="#008000"/>
<rect x="207" y="415" width="1" height="13" fill="#ff0000"/>
<rect x="211" y="415" width="1" height="13" fill="#ff0000"/>
<rect x="215" y="416" width="1" height="12" fill="#ff0000"/>
<rect x="219" y="415" width="1" height="13" fill="#008000"/>
<rect x="223" y="415" width="1" height="13" fill="#008000"/>
<rect x="227" y="415" width="1" height="13" fill="#ff0000"/>
<rect x="231" y="416" width="1" height="12" fill="#ff0000"/>
<rect x="235" y="415" width="1" height="13" fill="#008000"/>
<rect x="239" y="414" width="1" height="14" fill="#008000"/>
<rect x="243" y="414" width="1" height="14" fill="#008000"/>
<rect x="247" y="413" width="1" height="15" fill="#008000"/>
<rect x="251" y="415" width="1" height="13" fill="#ff0000"/>
<rect x="255" y="418" width="1" height="10" fill="#ff0000"/>
<rect x="259" y="424" width="1" height="4" fill="#ff0000"/>
<rect x="263" y="427" width="1" height="1" fill="#ff0000"/>
<rect x="267" y="427" width="1" height="4" fill="#ff0000"/>
<rect x="271" y="427" width="1" height="8" fill="#ff0000"/>
<rect x="275" y="427" width="1" height="10" fill="#ff0000"/>
<rect x="279" y="427" width="1" height="12" fill="#ff0000"/>
<rect x="283" y="427" width="1" height="13" fill="#ff0000"/>
<rect x="287" y="427" width="1" height="14" fill="#ff0000"/>
<rect x="291" y="427" width="1" height="15" fill="#ff0000"/>
<rect x="295" y="427" width="1" height="15" fill="#008000"/>
<rect x="299" y="427" width="1" height="14" fill="#008000"/>
<rect x="303" y="427" width="1" height="11" fill="#008000"/>
<rect x="307" y="427" width="1" height="10" fill="#008000"/>
<rect x="311" y="427" width="1" height="10" fill="#008000"/>
<rect x="315" y="427" width="1" height="10" fill="#008000"/>
<rect x="319" y="427" width="1" height="9" fill="#008000"/>
<rect x="323" y="427" width="1" height="9" fill="#008000"/>
<rect x="327" y="427" width="1" height="5" fill="#008000"/>
<rect x="331" y="427" width="1" height="3" fill="#008000"/>
<rect x="335" y="427" width="1" height="1" fill="#008000"/>
<rect x="339" y="424" width="1" height="4" fill="#008000"/>
<rect x="343" y="420" width="1" height="8" fill="#008000"/>
<rect x="347" y="417" width="1" height="11" fill="#008000"/>
<rect x="351" y="414" width="1" height="14" fill="#008000"/>
<rect x="355" y="413" width="1" height="15" fill="#008000"/>
<rect x="359" y="413" width="1" height="15" fill="#ff0000"/>
<rect x="363" y="413" width="1" height="15" fill="#ff0000"/>
<rect x="367" y="413" width="1" height="15" fill="#008000"/>
<rect x="371" y="412" width="1" height="16" fill="#008000"/>
<rect x="375" y="413" width="1" height="15" fill="#ff0000"/>
<rect x="379" y="414" width="1" height="14" fill="#ff0000"/>
<rect x="383" y="415" width="1" height="13" fill="#ff0000"/>
<rect x="387" y="416" width="1" height="12" fill="#ff0000"/>
<rect x="391" y="417" width="1" height="11" fill="#ff0000"/>
<rect x="395" y="418" width="1" height="10" fill="#ff0000"/>
<rect x="399" y="418" width="1" height="10" fill="#ff0000"/>
<rect x="403" y="419" width="1" height="9" fill="#ff0000"/>
<rect x="407" y="420" width="1" height="8" fill="#ff0000"/>
<rect x="411" y="419" width="1" height="9" fill="#008000"/>
<rect x="415" y="420" width="1" height="8" fill="#ff0000"/>
<rect x="419" y="422" width="1" height="6" fill="#ff0000"/>
<rect x="423" y="424" width="1" height="4" fill="#ff0000"/>
<rect x="427" y="426" width="1" height="2" fill="#ff0000"/>
<rect x="431" y="427" width="1" height="1" fill="#ff0000"/>
<rect x="435" y="427" width="1" height="1" fill="#008000"/>
<rect x="439" y="426" width="1" height="2" fill="#008000"/>
<rect x="443" y="424" width="1" height="4" fill="#008000"/>
<rect x="447" y="421" width="1" height="7" fill="#008000"/>
<rect x="451" y="418" width="1" height="10" fill="#008000"/>
<rect x="455" y="414" width="1" height="14" fill="#008000"/>
<rect x="459" y="407" width="1" height="21" fill="#008000"/>
<rect x="463" y="402" width="1" height="26" fill="#008000"/>
<rect x="467" y="399" width="1" height="29" fill="#008000"/>
<rect x="471" y="397" width="1" height="31" fill="#008000"/>
<rect x="475" y="400" width="1" height="28" fill="#ff0000"/>
<rect x="479" y="406" width="1" height="22" fill="#ff0000"/>
<rect x="483" y="410" width="1" height="18" fill="#ff0000"/>
<rect x="487" y="415" width="1" height="13" fill="#ff0000"/>
<rect x="491" y="420" width="1" height="8" fill="#ff0000"/>
<rect x="495" y="424" width="1" height="4" fill="#ff0000"/>
<rect x="499" y="427" width="1" height="1" fill="#ff0000"/>
<rect x="503" y="427" width="1" height="2" fill="#ff0000"/>
<rect x="507" y="427" width="1" height="3" fill="#ff0000"/>
<rect x="511" y="427" width="1" height="1" fill="#008000"/>
<rect x="515" y="425" width="1" height="3" fill="#008000"/>
<rect x="519" y="420" width="1" height="8" fill="#008000"/>
<rect x="523" y="414" width="1" height="14" fill="#008000"/>
<rect x="527" y="409" width="1" height="19" fill="#008000"/>
<rect x="531" y="407" width="1" height="21" fill="#008000"/>
<rect x="535" y="406" width="1" height="22" fill="#008000"/>
<rect x="539" y="408" width="1" height="20" fill="#ff0000"/>
<rect x="543" y="410" width="1" height="18" fill="#ff0000"/>
<rect x="547" y="410" width="1" height="18" fill="#ff0000"/>
<rect x="551" y="410" width="1" height="18" fill="#008000"/>
<rect x="555" y="409" width="1" height="19" fill="#008000"/>
<rect x="559" y="409" width="1" height="19" fill="#008000"/>
<rect x="563" y="411" width="1" height="17" fill="#ff0000"/>
<rect x="567" y="414" width="1" height="14" fill="#ff0000"/>
<rect x="571" y="417" width="1" height="11" fill="#ff0000"/>
<rect x="575" y="422" width="1" height="6" fill="#ff0000"/>
<rect x="579" y="425" width="1" height="3" fill="#ff0000"/>
<rect x="583" y="427" width="1" height="1" fill="#ff0000"/>
<rect x="587" y="427" width="1" height="1" fill="#ff0000"/>
<rect x="591" y="427" width="1" height="1" fill="#ff0000"/>
<rect x="595" y="427" width="1" height="1" fill="#ff0000"/>
<rect x="599" y="427" width="1" height="2" fill="#ff0000"/>
<rect x="603" y="427" width="1" height="4" fill="#ff0000"/>
<rect x="607" y="427" width="1" height="7" fill="#ff0000"/>
<rect x="611" y="427" width="1" height="10" fill="#ff0000"/>
<rect x="615" y="427" width="1" height="11" fill="#ff0000"/>
<rect x="619" y="427" width="1" height="13" fill="#ff0000"/>
<rect x="623" y="427" width="1" height="14" fill="#ff0000"/>
<rect x="627" y="427" width="1" height="16" fill="#ff0000"/>
<rect x="631" y="427" width="1" height="18" fill="#ff0000"/>
<rect x="635" y="427" width="1" height="20" fill="#ff0000"/>
<rect x="639" y="427" width="1" height="22" fill="#ff0000"/>
<rect x="643" y="427" width="1" height="24" fill="#ff0000"/>
<rect x="647" y="427" width="1" height="26" fill="#ff0000"/>
<rect x="651" y="427" width="1" height="27" fill="#ff0000"/>
<rect x="655" y="427" width="1" height="27" fill="#008000"/>
<rect x="659" y="427" width="1" height="27" fill="#008000"/>
<rect x="663" y="427" width="1" height="28" fill="#ff0000"/>
<rect x="667" y="427" width="1" height="27" fill="#008000"/>
<rect x="671" y="427" width="1" height="28" fill="#ff0000"/>
<rect x="675" y="427" width="1" height="28" fill="#008000"/>
<rect x="679" y="427" width="1" height="27" fill="#008000"/>
<rect x="683" y="427" width="1" height="25" fill="#008000"/>
<rect x="687" y="427" width="1" height="25" fill="#008000"/>
<rect x="691" y="427" width="1" height="24" fill="#008000"/>
<rect x="695" y="427" width="1" height="23" fill="#008000"/>
<rect x="699" y="427" width="1" height="22" fill="#008000"/>
<rect x="703" y="427" width="1" height="21" fill="#008000"/>
<rect x="707" y="427" width="1" height="18" fill="#008000"/>
<rect x="2" y="2" width="734" height="1" fill="#000"/>
<rect x="2" y="389" width="734" height="1" fill="#000"/>
<rect x="2" y="2" width="1" height="388" fill="#000"/>
<rect x="735" y="2" width="1" height="388" fill="#000"/>
<rect x="2" y="391" width="734" height="1" fill="#000"/>
<rect x="2" y="468" width="734" height="1" fill="#000"/>
<rect x="2" y="391" width="1" height="78" fill="#000"/>
<rect x="735" y="391" width="1" height="78" fill="#000"/>
<rect x="736" y="23" width="2" height="1" fill="#000"/>
<rect x="736" y="56" width="2" height="1" fill="#000"/>
<rect x="736" y="89" width="2" height="1" fill="#000"/>
<rect x="736" y="122" width="2" height="1" fill="#000"/>
<rect x="736" y="155" width="2" height="1" fill="#000"/>
<rect x="736" y="188" width="2" height="1" fill="#000"/>
<rect x="736" y="221" width="2" height="1" fill="#000"/>
<rect x="736" y="254" width="2" height="1" fill="#000"/>
<rect x="736" y="287" width="2" height="1" fill="#000"/>
<rect x="736" y="320" width="2" height="1" fill="#000"/>
<rect x="736" y="353" width="2" height="1" fill="#000"/>
<rect x="736" y="386" width="2" height="1" fill="#000"/>
<rect x="736" y="393" width="1" height="1" fill="#000"/>
<rect x="736" y="427" width="1" height="1" fill="#000"/>
<rect x="736" y="467" width="1" height="1" fill="#000"/>
<rect x="3" y="469" width="1" height="3" fill="#000"/>
<rect x="67" y="469" width="1" height="3" fill="#000"/>
<rect x="131" y="469" width="1" height="3" fill="#000"/>
<rect x="195" y="469" width="1" height="3" fill="#000"/>
<rect x="259" y="469" width="1" height="3" fill="#000"/>
<rect x="323" y="469" width="1" height="3" fill="#000"/>
<rect x="387" y="469" width="1" height="3" fill="#000"/>
<rect x="451" y="469" width="1" height="3" fill="#000"/>
<rect x="515" y="469" width="1" height="3" fill="#000"/>
<rect x="579" y="469" width="1" height="3" fill="#000"/>
<rect x="643" y="469" width="1" height="3" fill="#000"/>
<rect x="707" y="469" width="1" height="3" fill="#000"/>
<rect x="737" y="109" width="41" height="11" fill="#008000"/>
<rect x="737" y="205" width="41" height="11" fill="#008000"/>
<rect x="737" y="271" width="41" height="11" fill="#ff0000"/>
<rect x="737" y="367" width="41" height="11" fill="#ff0000"/>
<rect x="737" y="239" width="41" height="11" fill="#000"/>
<rect x="6" y="9" width="7" height="1" fill="#000"/>
<rect x="7" y="10" width="5" height="1" fill="#000"/>
<rect x="8" y="11" width="3" height="1" fill="#000"/>
<rect x="9" y="12" width="1" height="1" fill="#000"/>
</g>
<g font-family="'Liberation Sans', sans-serif" stroke-width="0.25" text-rendering="geometricPrecision">
<text x="18.8" y="14" font-size="10" fill="#000" stroke="#000" stroke-width="0.38" textLength="62" lengthAdjust="spacingAndGlyphs">#Ethereum,M5</text>
<text x="87.6" y="14" font-size="10" fill="#000" stroke="#000" stroke-width="0.38" textLength="32" lengthAdjust="spacingAndGlyphs">3548.11</text>
<text x="123.64999999999999" y="14" font-size="10" fill="#000" stroke="#000" stroke-width="0.38" textLength="32" lengthAdjust="spacingAndGlyphs">3549.49</text>
<text x="159.7" y="14" font-size="10" fill="#000" stroke="#000" stroke-width="0.38" textLength="32" lengthAdjust="spacingAndGlyphs">3546.91</text>
<text x="195.75" y="14" font-size="10" fill="#000" stroke="#000" stroke-width="0.38" textLength="32" lengthAdjust="spacingAndGlyphs">3548.89</text>
<text x="741.2" y="27" font-size="10" fill="#000" stroke="#000" stroke-width="0.38" textLength="32.4" lengthAdjust="spacingAndGlyphs">3709.10</text>
<text x="741.2" y="60" font-size="10" fill="#000" stroke="#000" stroke-width="0.38" textLength="32.4" lengthAdjust="spacingAndGlyphs">3685.30</text>
<text x="741.2" y="93" font-size="10" fill="#000" stroke="#000" stroke-width="0.38" textLength="32.4" lengthAdjust="spacingAndGlyphs">3661.50</text>
<text x="741.2" y="126" font-size="10" fill="#000" stroke="#000" stroke-width="0.38" textLength="32.4" lengthAdjust="spacingAndGlyphs">3637.70</text>
<text x="741.2" y="159" font-size="10" fill="#000" stroke="#000" stroke-width="0.38" textLength="32.4" lengthAdjust="spacingAndGlyphs">3613.90</text>
<text x="741.2" y="192" font-size="10" fill="#000" stroke="#000" stroke-width="0.38" textLength="32.4" lengthAdjust="spacingAndGlyphs">3589.40</text>
<text x="741.2" y="225" font-size="10" fill="#000" stroke="#000" stroke-width="0.38" textLength="32.4" lengthAdjust="spacingAndGlyphs">3565.60</text>
<text x="741.2" y="258" font-size="10" fill="#000" stroke="#000" stroke-width="0.38" textLength="32.4" lengthAdjust="spacingAndGlyphs">3541.80</text>
<text x="741.2" y="291" font-size="10" fill="#000" stroke="#000" stroke-width="0.38" textLength="32.4" lengthAdjust="spacingAndGlyphs">3518.00</text>
<text x="741.2" y="324" font-size="10" fill="#000" stroke="#000" stroke-width="0.38" textLength="32.4" lengthAdjust="spacingAndGlyphs">3494.20</text>
<text x="741.2" y="357" font-size="10" fill="#000" stroke="#000" stroke-width="0.38" textLength="32.4" lengthAdjust="spacingAndGlyphs">3470.40</text>
<text x="741.2" y="390" font-size="10" fill="#000" stroke="#000" stroke-width="0.38" textLength="32.4" lengthAdjust="spacingAndGlyphs">3446.60</text>
<text x="741.4" y="118" font-size="10" fill="#fff" stroke="#fff" stroke-width="0.12" textLength="32.2" lengthAdjust="spacingAndGlyphs">3642.41</text>
<text x="741.4" y="214" font-size="10" fill="#fff" stroke="#fff" stroke-width="0.12" textLength="32.2" lengthAdjust="spacingAndGlyphs">3572.93</text>
<text x="741.4" y="280" font-size="10" fill="#fff" stroke="#fff" stroke-width="0.12" textLength="32.2" lengthAdjust="spacingAndGlyphs">3525.47</text>
<text x="741.4" y="376" font-size="10" fill="#fff" stroke="#fff" stroke-width="0.12" textLength="32.2" lengthAdjust="spacingAndGlyphs">3455.52</text>
<text x="741.4" y="248" font-size="10" fill="#fff" stroke="#fff" stroke-width="0.12" textLength="32.2" lengthAdjust="spacingAndGlyphs">3548.89</text>
<text x="8" y="404" font-size="10" fill="#000" stroke="#000" stroke-width="0.38" textLength="48" lengthAdjust="spacingAndGlyphs">AO -23.739</text>
<text x="739.3" y="402" font-size="10" fill="#000" stroke="#000" stroke-width="0.38" textLength="27.6" lengthAdjust="spacingAndGlyphs">44.292</text>
<text x="739.3" y="431" font-size="10" fill="#000" stroke="#000" stroke-width="0.38" textLength="17.6" lengthAdjust="spacingAndGlyphs">0.00</text>
<text x="739.2" y="465" font-size="10" fill="#000" stroke="#000" stroke-width="0.38" textLength="30.3" lengthAdjust="spacingAndGlyphs">-52.587</text>
<text x="2.8" y="481" font-size="10" fill="#000" stroke="#000" stroke-width="0.38" textLength="53.3" lengthAdjust="spacingAndGlyphs">10 Nov 2025</text>
<text x="66.8" y="481" font-size="10" fill="#000" stroke="#000" stroke-width="0.38" textLength="56.2" lengthAdjust="spacingAndGlyphs">10 Nov 19:10</text>
<text x="130.8" y="481" font-size="10" fill="#000" stroke="#000" stroke-width="0.38" textLength="56.2" lengthAdjust="spacingAndGlyphs">10 Nov 20:30</text>
<text x="194.8" y="481" font-size="10" fill="#000" stroke="#000" stroke-width="0.38" textLength="56.2" lengthAdjust="spacingAndGlyphs">10 Nov 21:50</text>
<text x="258.8" y="481" font-size="10" fill="#000" stroke="#000" stroke-width="0.38" textLength="56.2" lengthAdjust="spacingAndGlyphs">10 Nov 23:10</text>
<text x="322.8" y="481" font-size="10" fill="#000" stroke="#000" stroke-width="0.38" textLength="56.2" lengthAdjust="spacingAndGlyphs">11 Nov 00:30</text>
<text x="386.8" y="481" font-size="10" fill="#000" stroke="#000" stroke-width="0.38" textLength="56.2" lengthAdjust="spacingAndGlyphs">11 Nov 01:50</text>
<text x="450.8" y="481" font-size="10" fill="#000" stroke="#000" stroke-width="0.38" textLength="56.2" lengthAdjust="spacingAndGlyphs">11 Nov 03:10</text>
<text x="514.8" y="481" font-size="10" fill="#000" stroke="#000" stroke-width="0.38" textLength="56.2" lengthAdjust="spacingAndGlyphs">11 Nov 04:30</text>
<text x="578.8" y="481" font-size="10" fill="#000" stroke="#000" stroke-width="0.38" textLength="56.2" lengthAdjust="spacingAndGlyphs">11 Nov 05:50</text>
<text x="642.8" y="481" font-size="10" fill="#000" stroke="#000" stroke-width="0.38" textLength="56.2" lengthAdjust="spacingAndGlyphs">11 Nov 07:10</text>
<text x="706.8" y="481" font-size="10" fill="#000" stroke="#000" stroke-width="0.38" textLength="56.2" lengthAdjust="spacingAndGlyphs">11 Nov 08:30</text>
</g></svg></body></html>
